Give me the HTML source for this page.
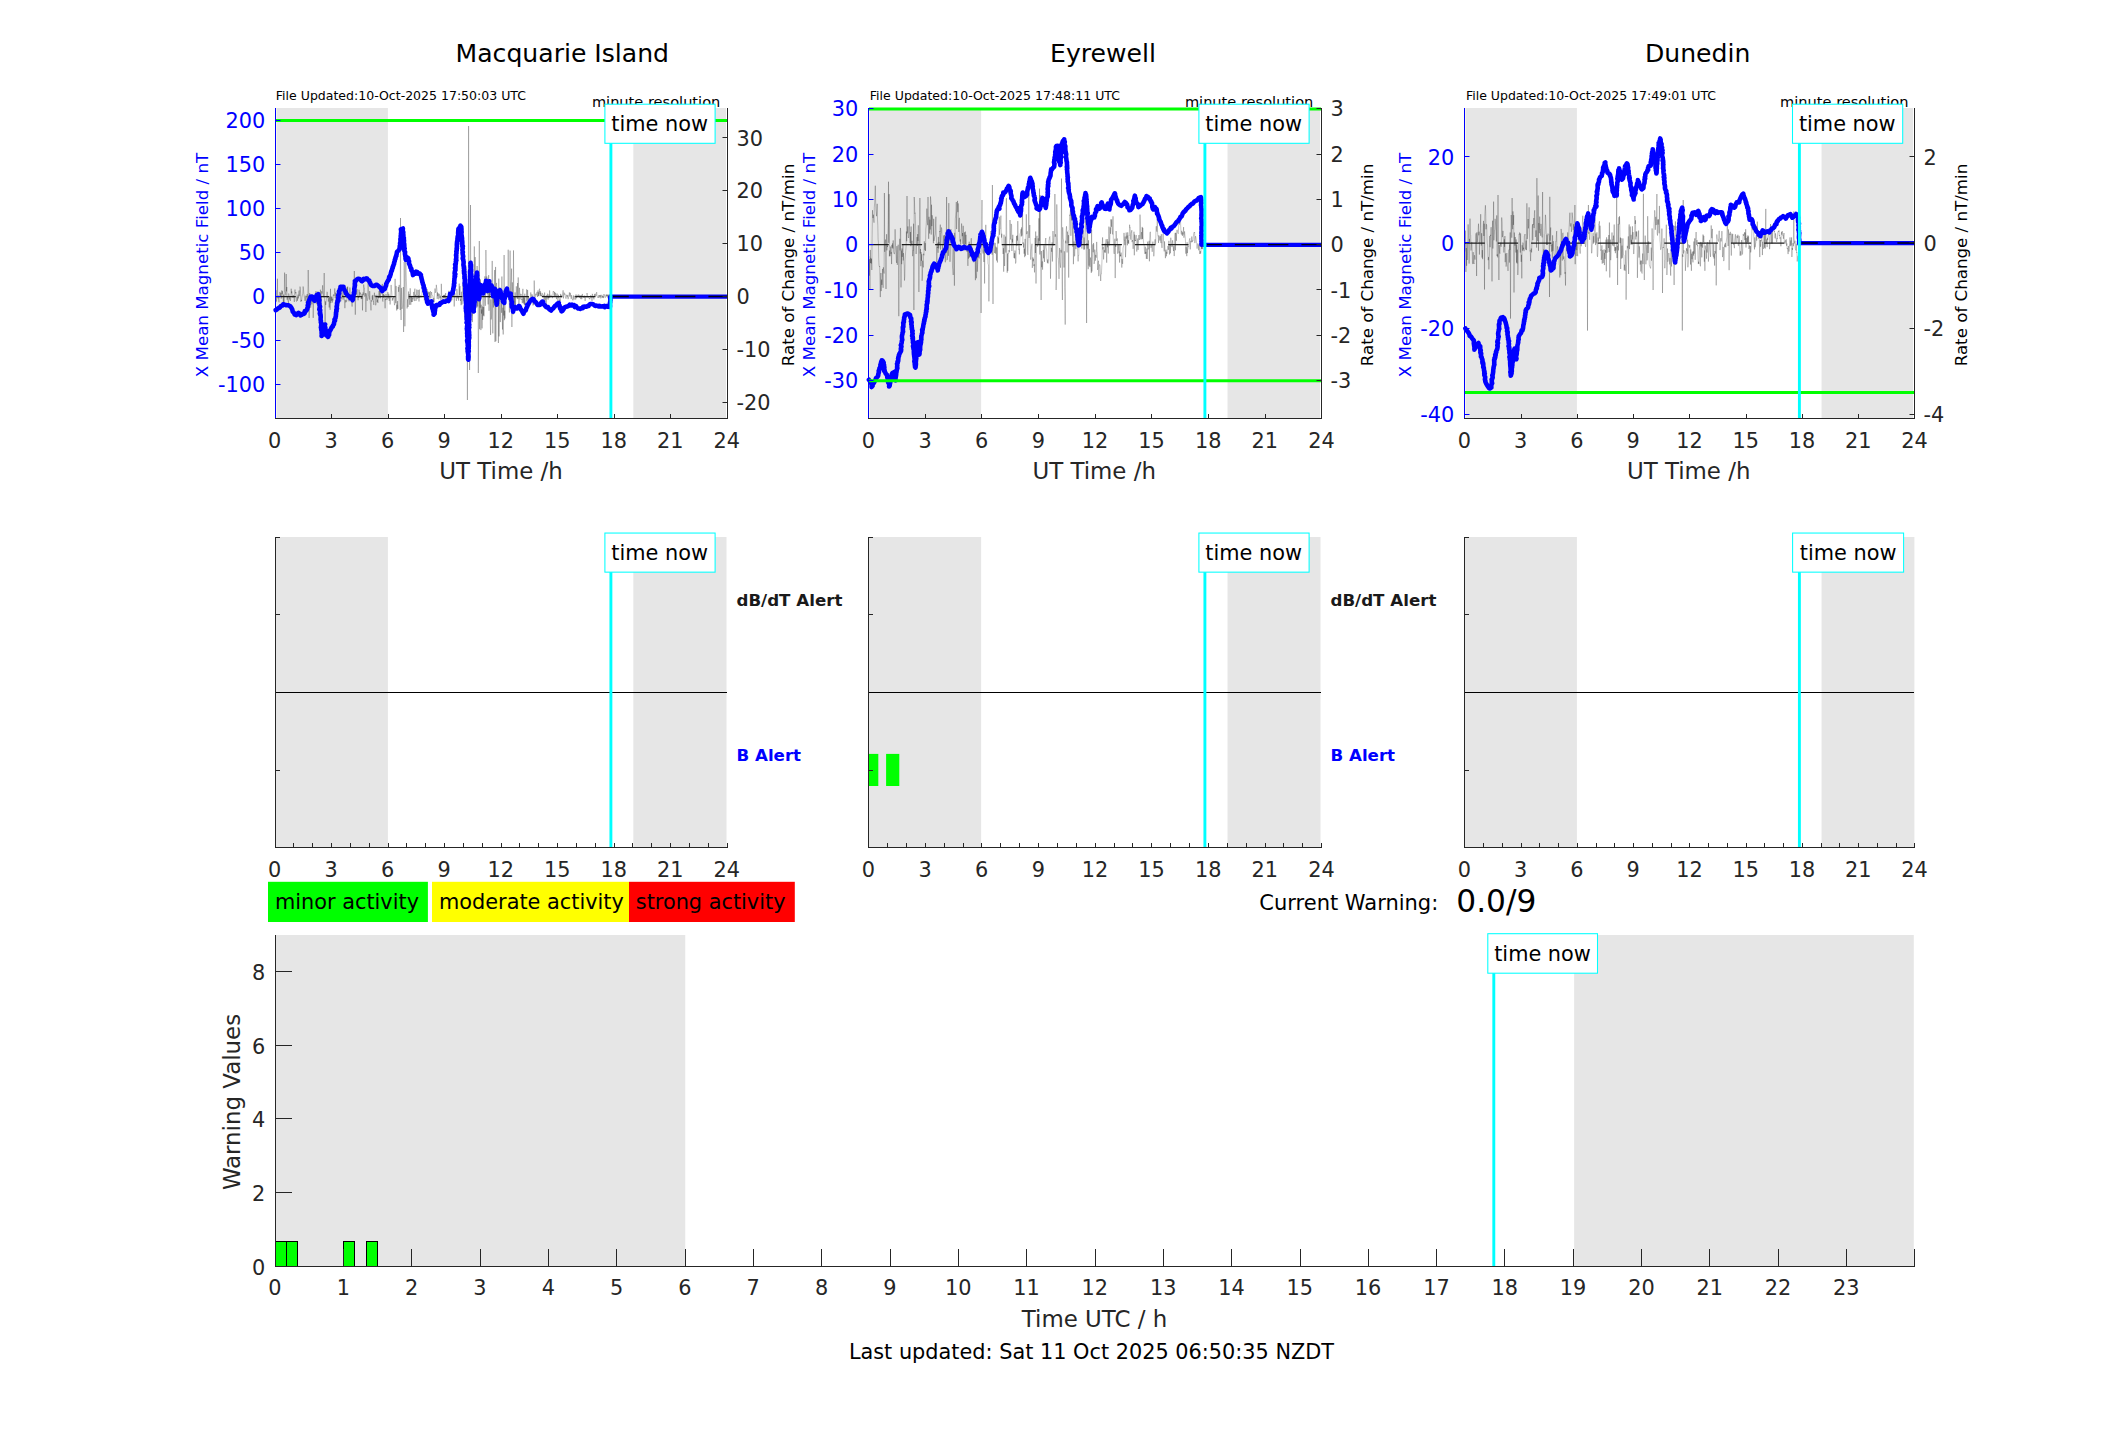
<!DOCTYPE html>
<html><head><meta charset="utf-8"><title>Geomagnetic activity</title>
<style>html,body{margin:0;padding:0;background:#fff}svg{display:block}</style></head>
<body>
<svg width="2117" height="1437" viewBox="0 0 2117 1437" font-family="'DejaVu Sans', 'Liberation Sans', sans-serif">
<rect x="0" y="0" width="2117" height="1437" fill="#ffffff"/>
<rect x="277" y="108" width="110.9" height="310" fill="#e6e6e6"/>
<rect x="276" y="108" width="1" height="310" fill="#f6f6e6"/>
<rect x="633.33" y="108" width="92.67" height="310" fill="#e6e6e6"/>
<text x="562.3" y="62.2" font-size="25.1" fill="#000000" text-anchor="middle">Macquarie Island</text>
<text x="275.8" y="99.9" font-size="12.53" fill="#000000">File Updated:10-Oct-2025 17:50:03 UTC</text>
<text x="720.3" y="107" font-size="14.58" fill="#000000" text-anchor="end">minute resolution</text>
<polyline points="275.5,304.7 275.8,302.3 276.1,290.2 276.4,301.6 276.8,298.7 277.1,295.3 277.4,278.7 277.7,297.4 278.0,298.4 278.3,295.5 278.6,300.0 279.0,302.3 279.3,296.8 279.6,297.2 279.9,291.9 280.2,295.3 280.5,297.0 280.8,292.9 281.2,298.7 281.5,297.2 281.8,290.4 282.1,294.2 282.4,291.2 282.7,294.5 283.0,298.3 283.4,302.7 283.7,294.6 284.0,302.0 284.3,293.2 284.6,272.6 284.9,288.3 285.2,291.6 285.5,292.3 285.9,295.5 286.2,274.0 286.5,291.4 286.8,287.0 287.1,299.7 287.4,296.8 287.7,300.4 288.1,300.7 288.4,305.3 288.7,293.5 289.0,294.8 289.3,297.7 289.6,299.5 289.9,297.1 290.3,301.0 290.6,299.1 290.9,296.9 291.2,288.7 291.5,293.3 291.8,291.4 292.1,294.3 292.5,297.5 292.8,297.4 293.1,295.9 293.4,295.1 293.7,298.0 294.0,297.6 294.3,301.9 294.7,291.4 295.0,289.5 295.3,291.6 295.6,293.4 295.9,292.0 296.2,301.0 296.5,301.5 296.9,299.5 297.2,296.6 297.5,300.7 297.8,296.2 298.1,294.6 298.4,298.4 298.7,292.4 299.1,290.5 299.4,294.2 299.7,296.2 300.0,286.6 300.3,288.4 300.6,293.0 300.9,301.9 301.2,299.9 301.6,301.0 301.9,297.4 302.2,296.0 302.5,294.4 302.8,293.5 303.1,286.5 303.4,288.2 303.8,293.6 304.1,295.7 304.4,297.5 304.7,298.4 305.0,300.9 305.3,295.7 305.6,299.1 306.0,300.7 306.3,303.8 306.6,295.8 306.9,297.4 307.2,294.0 307.5,298.9 307.8,296.2 308.2,270.0 308.5,284.7 308.8,295.9 309.1,318.0 309.4,307.8 309.7,293.1 310.0,300.9 310.4,298.9 310.7,307.7 311.0,304.1 311.3,297.9 311.6,296.9 311.9,304.4 312.2,299.8 312.6,295.2 312.9,296.8 313.2,317.9 313.5,301.5 313.8,297.0 314.1,300.9 314.4,301.2 314.8,302.1 315.1,297.5 315.4,301.3 315.7,293.3 316.0,291.1 316.3,304.3 316.6,293.0 316.9,294.2 317.3,299.2 317.6,291.6 317.9,301.1 318.2,297.7 318.5,298.4 318.8,296.3 319.1,296.7 319.5,297.1 319.8,298.4 320.1,307.1 320.4,289.7 320.7,303.2 321.0,296.2 321.3,299.7 321.7,291.2 322.0,293.6 322.3,290.5 322.6,285.3 322.9,290.6 323.2,295.7 323.5,297.3 323.9,290.2 324.2,273.0 324.5,299.3 324.8,304.3 325.1,324.0 325.4,301.3 325.7,304.9 326.1,302.2 326.4,297.7 326.7,296.0 327.0,291.8 327.3,292.5 327.6,297.7 327.9,296.7 328.3,301.6 328.6,299.0 328.9,297.6 329.2,307.5 329.5,296.6 329.8,299.9 330.1,309.8 330.5,288.8 330.8,303.1 331.1,296.4 331.4,300.8 331.7,297.3 332.0,296.9 332.3,302.6 332.6,298.8 333.0,300.5 333.3,294.7 333.6,294.5 333.9,296.0 334.2,295.3 334.5,293.3 334.8,288.4 335.2,298.0 335.5,292.6 335.8,294.0 336.1,299.0 336.4,305.3 336.7,303.0 337.0,296.9 337.4,308.7 337.7,300.3 338.0,303.9 338.3,305.1 338.6,297.0 338.9,295.2 339.2,297.1 339.6,296.9 339.9,296.1 340.2,290.2 340.5,292.4 340.8,301.3 341.1,297.2 341.4,298.5 341.8,294.3 342.1,291.3 342.4,296.4 342.7,295.3 343.0,299.6 343.3,296.3 343.6,285.9 344.0,292.8 344.3,300.3 344.6,300.9 344.9,308.2 345.2,299.7 345.5,301.2 345.8,302.4 346.2,300.3 346.5,301.6 346.8,301.2 347.1,287.0 347.4,290.5 347.7,286.5 348.0,295.4 348.3,295.5 348.7,297.7 349.0,301.4 349.3,295.5 349.6,297.1 349.9,287.5 350.2,294.7 350.5,298.7 350.9,300.7 351.2,300.3 351.5,295.9 351.8,302.8 352.1,306.6 352.4,298.6 352.7,302.5 353.1,291.0 353.4,293.8 353.7,298.7 354.0,298.1 354.3,271.0 354.6,294.1 354.9,298.7 355.3,314.7 355.6,299.2 355.9,291.4 356.2,292.9 356.5,294.5 356.8,291.4 357.1,289.2 357.5,296.1 357.8,297.9 358.1,300.3 358.4,295.8 358.7,298.0 359.0,289.7 359.3,291.4 359.7,295.8 360.0,292.2 360.3,293.5 360.6,293.1 360.9,294.8 361.2,299.1 361.5,296.9 361.9,299.0 362.2,294.1 362.5,310.4 362.8,294.8 363.1,292.4 363.4,295.2 363.7,284.5 364.0,287.7 364.4,287.9 364.7,296.6 365.0,295.7 365.3,293.0 365.6,294.7 365.9,312.0 366.2,293.4 366.6,297.6 366.9,299.1 367.2,300.8 367.5,298.5 367.8,297.0 368.1,279.9 368.4,295.0 368.8,296.3 369.1,299.5 369.4,299.5 369.7,291.1 370.0,296.9 370.3,302.8 370.6,304.6 371.0,310.4 371.3,300.3 371.6,301.5 371.9,300.7 372.2,295.7 372.5,299.8 372.8,294.9 373.2,301.7 373.5,301.4 373.8,304.9 374.1,299.5 374.4,292.7 374.7,296.4 375.0,296.6 375.4,295.3 375.7,305.3 376.0,303.6 376.3,299.6 376.6,298.0 376.9,294.8 377.2,302.0 377.6,299.6 377.9,303.0 378.2,295.9 378.5,298.2 378.8,293.6 379.1,290.9 379.4,297.7 379.7,290.7 380.1,294.5 380.4,298.3 380.7,291.6 381.0,291.6 381.3,287.5 381.6,293.2 381.9,292.9 382.3,283.9 382.6,300.7 382.9,301.6 383.2,293.7 383.5,297.6 383.8,294.4 384.1,296.3 384.5,295.5 384.8,302.1 385.1,308.3 385.4,299.2 385.7,300.2 386.0,294.1 386.3,297.9 386.7,299.1 387.0,300.0 387.3,298.2 387.6,298.2 387.9,292.1 388.2,298.6 388.5,295.6 388.9,293.8 389.2,300.9 389.5,296.3 389.8,295.6 390.1,304.5 390.4,297.8 390.7,297.9 391.1,284.9 391.4,290.3 391.7,290.9 392.0,296.4 392.3,300.7 392.6,298.2 392.9,299.5 393.3,298.4 393.6,297.1 393.9,297.0 394.2,302.1 394.5,305.2 394.8,303.8 395.1,278.8 395.4,297.9 395.8,303.2 396.1,285.9 396.4,303.9 396.7,310.5 397.0,304.7 397.3,309.3 397.6,301.1 398.0,308.9 398.3,286.9 398.6,291.8 398.9,287.9 399.2,284.9 399.5,289.3 399.8,296.1 400.2,310.0 400.5,218.0 400.8,306.2 401.1,320.0 401.4,287.9 401.7,300.5 402.0,308.9 402.4,307.0 402.7,306.3 403.0,296.5 403.3,287.0 403.6,332.0 403.9,291.8 404.2,262.0 404.6,287.6 404.9,326.3 405.2,292.3 405.5,281.6 405.8,262.2 406.1,274.2 406.4,280.5 406.8,293.0 407.1,308.5 407.4,301.8 407.7,299.1 408.0,307.0 408.3,304.2 408.6,291.5 409.0,299.0 409.3,294.1 409.6,304.8 409.9,297.6 410.2,288.3 410.5,295.9 410.8,304.8 411.1,296.0 411.5,302.1 411.8,295.8 412.1,300.8 412.4,302.0 412.7,297.7 413.0,299.4 413.3,296.8 413.7,291.9 414.0,295.0 414.3,301.1 414.6,290.8 414.9,288.6 415.2,296.8 415.5,294.8 415.9,301.0 416.2,300.1 416.5,293.5 416.8,289.5 417.1,299.2 417.4,297.8 417.7,296.5 418.1,290.0 418.4,297.9 418.7,295.4 419.0,301.5 419.3,289.5 419.6,297.9 419.9,297.1 420.3,296.8 420.6,295.5 420.9,297.3 421.2,297.3 421.5,296.2 421.8,296.4 422.1,291.7 422.5,286.3 422.8,286.3 423.1,284.4 423.4,291.4 423.7,295.1 424.0,297.0 424.3,300.4 424.7,298.5 425.0,299.1 425.3,294.5 425.6,295.8 425.9,298.2 426.2,291.0 426.5,292.4 426.8,300.6 427.2,289.2 427.5,295.3 427.8,292.8 428.1,294.2 428.4,291.7 428.7,292.9 429.0,297.3 429.4,292.1 429.7,298.7 430.0,293.2 430.3,291.1 430.6,294.9 430.9,298.3 431.2,295.4 431.6,292.0 431.9,294.7 432.2,295.2 432.5,295.6 432.8,296.1 433.1,298.3 433.4,301.4 433.8,297.9 434.1,302.3 434.4,293.3 434.7,291.2 435.0,288.5 435.3,290.9 435.6,292.8 436.0,291.1 436.3,284.8 436.6,287.3 436.9,289.2 437.2,298.9 437.5,292.4 437.8,296.1 438.2,293.5 438.5,294.9 438.8,299.3 439.1,293.7 439.4,294.2 439.7,296.8 440.0,298.1 440.4,295.7 440.7,298.6 441.0,301.0 441.3,283.8 441.6,292.0 441.9,298.4 442.2,299.2 442.5,299.7 442.9,301.2 443.2,295.9 443.5,295.1 443.8,298.1 444.1,294.8 444.4,297.3 444.7,294.9 445.1,302.3 445.4,294.8 445.7,293.1 446.0,301.0 446.3,300.9 446.6,299.0 446.9,297.1 447.3,303.0 447.6,295.8 447.9,298.4 448.2,299.6 448.5,292.5 448.8,290.8 449.1,297.5 449.5,298.1 449.8,298.7 450.1,296.0 450.4,299.0 450.7,299.4 451.0,301.4 451.3,290.7 451.7,300.4 452.0,299.6 452.3,296.2 452.6,288.7 452.9,289.8 453.2,286.2 453.5,295.7 453.9,292.2 454.2,306.5 454.5,297.0 454.8,292.8 455.1,294.6 455.4,296.9 455.7,296.6 456.1,297.9 456.4,300.9 456.7,288.9 457.0,289.6 457.3,291.2 457.6,297.9 457.9,298.6 458.2,295.8 458.6,300.6 458.9,296.0 459.2,283.6 459.5,295.3 459.8,287.8 460.1,286.2 460.4,301.0 460.8,298.7 461.1,305.2 461.4,292.3 461.7,291.7 462.0,304.4 462.3,299.8 462.6,283.5 463.0,285.9 463.3,292.7 463.6,290.5 463.9,300.9 464.2,293.5 464.5,317.4 464.8,316.6 465.2,293.0 465.5,312.7 465.8,265.3 466.1,293.0 466.4,295.8 466.7,292.4 467.0,299.3 467.4,400.0 467.7,306.2 468.0,303.3 468.3,320.9 468.6,126.0 468.9,253.3 469.2,321.5 469.6,370.0 469.9,286.8 470.2,280.8 470.5,205.0 470.8,286.7 471.1,280.3 471.4,293.8 471.8,315.7 472.1,272.2 472.4,322.1 472.7,285.8 473.0,283.9 473.3,282.6 473.6,282.2 473.9,285.6 474.3,246.4 474.6,273.5 474.9,282.0 475.2,257.1 475.5,286.9 475.8,290.5 476.1,274.6 476.5,283.8 476.8,307.7 477.1,266.0 477.4,287.6 477.7,306.5 478.0,277.9 478.3,373.0 478.7,321.8 479.0,308.1 479.3,241.0 479.6,329.2 479.9,296.6 480.2,307.7 480.5,279.4 480.9,330.1 481.2,304.7 481.5,313.6 481.8,309.5 482.1,328.4 482.4,306.5 482.7,319.9 483.1,295.6 483.4,315.5 483.7,307.0 484.0,316.3 484.3,304.1 484.6,291.2 484.9,276.3 485.3,305.8 485.6,286.4 485.9,250.0 486.2,267.5 486.5,292.3 486.8,276.5 487.1,294.2 487.5,278.6 487.8,291.0 488.1,304.4 488.4,281.9 488.7,275.1 489.0,310.8 489.3,288.6 489.6,297.9 490.0,288.9 490.3,323.7 490.6,335.0 490.9,299.4 491.2,319.5 491.5,317.1 491.8,304.7 492.2,260.9 492.5,300.8 492.8,333.4 493.1,296.2 493.4,307.5 493.7,296.2 494.0,303.3 494.4,277.7 494.7,270.0 495.0,342.0 495.3,287.6 495.6,266.9 495.9,341.2 496.2,286.5 496.6,282.9 496.9,298.4 497.2,305.9 497.5,294.8 497.8,304.8 498.1,295.4 498.4,343.0 498.8,278.6 499.1,336.4 499.4,301.9 499.7,287.4 500.0,304.1 500.3,322.1 500.6,307.4 501.0,295.1 501.3,291.5 501.6,312.8 501.9,276.5 502.2,317.0 502.5,329.5 502.8,307.7 503.2,334.5 503.5,294.2 503.8,315.5 504.1,255.0 504.4,320.2 504.7,310.7 505.0,318.5 505.3,303.6 505.7,295.7 506.0,292.8 506.3,290.7 506.6,299.0 506.9,286.9 507.2,286.8 507.5,292.3 507.9,293.9 508.2,249.7 508.5,293.4 508.8,294.2 509.1,298.5 509.4,312.5 509.7,294.5 510.1,250.6 510.4,286.2 510.7,297.8 511.0,283.0 511.3,280.0 511.6,268.6 511.9,327.0 512.3,282.3 512.6,294.2 512.9,304.2 513.2,314.5 513.5,250.4 513.8,298.4 514.1,311.6 514.5,296.2 514.8,304.4 515.1,292.4 515.4,308.1 515.7,297.5 516.0,298.2 516.3,286.3 516.7,296.4 517.0,296.3 517.3,298.5 517.6,283.0 517.9,299.1 518.2,277.4 518.5,289.7 518.9,304.4 519.2,299.6 519.5,287.8 519.8,293.8 520.1,299.5 520.4,296.6 520.7,293.8 521.0,294.9 521.4,294.6 521.7,300.0 522.0,299.2 522.3,303.2 522.6,294.2 522.9,288.8 523.2,302.7 523.6,295.9 523.9,304.2 524.2,297.6 524.5,305.3 524.8,293.7 525.1,301.0 525.4,304.9 525.8,305.7 526.1,301.9 526.4,301.5 526.7,289.3 527.0,301.0 527.3,301.2 527.6,290.0 528.0,299.6 528.3,298.7 528.6,296.8 528.9,301.0 529.2,300.3 529.5,298.7 529.8,303.6 530.2,299.2 530.5,294.7 530.8,292.4 531.1,295.1 531.4,299.3 531.7,295.6 532.0,294.2 532.4,296.6 532.7,295.7 533.0,305.5 533.3,300.2 533.6,303.7 533.9,304.8 534.2,280.5 534.6,295.8 534.9,297.3 535.2,297.2 535.5,296.0 535.8,293.7 536.1,295.4 536.4,294.1 536.7,293.3 537.1,291.9 537.4,297.0 537.7,295.1 538.0,290.4 538.3,296.1 538.6,292.3 538.9,296.2 539.3,289.6 539.6,288.7 539.9,294.3 540.2,291.0 540.5,295.9 540.8,292.6 541.1,296.3 541.5,295.3 541.8,296.2 542.1,293.4 542.4,293.3 542.7,294.3 543.0,295.7 543.3,294.8 543.7,296.4 544.0,302.2 544.3,301.1 544.6,292.5 544.9,297.0 545.2,300.6 545.5,295.9 545.9,296.4 546.2,306.4 546.5,298.9 546.8,295.1 547.1,298.5 547.4,293.7 547.7,293.9 548.1,299.7 548.4,296.6 548.7,298.1 549.0,294.5 549.3,298.1 549.6,290.4 549.9,295.1 550.3,296.4 550.6,297.3 550.9,295.2 551.2,294.8 551.5,297.0 551.8,296.3 552.1,296.8 552.4,298.2 552.8,296.4 553.1,291.6 553.4,292.1 553.7,291.2 554.0,292.0 554.3,296.0 554.6,292.0 555.0,295.0 555.3,296.0 555.6,292.9 555.9,294.1 556.2,295.8 556.5,299.1 556.8,294.1 557.2,293.6 557.5,294.4 557.8,301.2 558.1,299.0 558.4,294.8 558.7,297.5 559.0,297.2 559.4,298.5 559.7,301.6 560.0,299.7 560.3,300.7 560.6,293.9 560.9,296.4 561.2,294.9 561.6,297.4 561.9,296.8 562.2,296.4 562.5,295.5 562.8,292.9 563.1,290.3 563.4,298.4 563.8,294.2 564.1,292.6 564.4,293.1 564.7,294.6 565.0,293.8 565.3,296.5 565.6,297.4 566.0,298.7 566.3,295.9 566.6,294.8 566.9,296.0 567.2,297.3 567.5,296.7 567.8,294.9 568.1,299.2 568.5,297.2 568.8,296.9 569.1,295.2 569.4,292.4 569.7,294.8 570.0,296.5 570.3,292.8 570.7,295.7 571.0,298.5 571.3,298.8 571.6,295.2 571.9,296.8 572.2,299.3 572.5,299.4 572.9,300.4 573.2,299.1 573.5,295.5 573.8,297.9 574.1,299.6 574.4,296.4 574.7,295.9 575.1,296.9 575.4,295.7 575.7,299.6 576.0,294.4 576.3,295.5 576.6,298.2 576.9,295.5 577.3,295.2 577.6,295.1 577.9,295.9 578.2,296.2 578.5,294.6 578.8,295.4 579.1,294.8 579.5,297.8 579.8,297.4 580.1,295.3 580.4,297.3 580.7,299.1 581.0,297.5 581.3,295.1 581.7,299.1 582.0,298.9 582.3,293.9 582.6,295.7 582.9,295.9 583.2,295.9 583.5,297.0 583.8,297.9 584.2,295.8 584.5,297.3 584.8,295.6 585.1,300.9 585.4,297.7 585.7,297.3 586.0,297.0 586.4,297.4 586.7,296.5 587.0,293.0 587.3,294.3 587.6,296.0 587.9,297.7 588.2,296.5 588.6,296.2 588.9,296.9 589.2,298.8 589.5,298.3 589.8,299.3 590.1,298.5 590.4,298.1 590.8,295.1 591.1,297.8 591.4,297.6 591.7,297.5 592.0,300.9 592.3,293.8 592.6,294.9 593.0,297.8 593.3,296.8 593.6,297.0 593.9,299.4 594.2,296.2 594.5,294.3 594.8,295.9 595.2,293.7 595.5,294.9 595.8,296.0 596.1,295.9 596.4,293.5 596.7,292.1 597.0,295.6 597.4,297.3 597.7,297.2 598.0,296.8 598.3,297.8 598.6,296.6 598.9,295.0 599.2,297.7 599.5,295.3 599.9,296.4 600.2,296.9 600.5,294.9 600.8,298.4 601.1,295.6 601.4,295.3 601.7,294.8 602.1,297.7 602.4,295.7 602.7,297.6 603.0,296.4 603.3,295.8 603.6,298.1 603.9,294.0 604.3,295.2 604.6,295.2 604.9,297.0 605.2,297.7 605.5,297.4 605.8,296.0 606.1,294.6 606.5,296.4 606.8,294.5 607.1,296.1 607.4,295.2 607.7,297.6 608.0,294.3 608.3,295.7 608.7,297.1 609.0,295.0 609.3,300.3 609.6,298.3 609.9,297.2" fill="none" stroke="#000" stroke-opacity="0.45" stroke-width="0.5" stroke-linejoin="round"/>
<line x1="275.5" y1="296.5" x2="610.9" y2="296.5" stroke="#1c1c1c" stroke-width="1.25" stroke-dasharray="20.3 13"/>
<polyline points="275.7,310.1 276.5,309.7 277.5,308.8 278.2,308.2 279.4,307.8 280.2,307.0 280.8,306.3 281.1,305.9 282.6,305.5 283.2,304.3 284.4,304.6 285.8,305.1 286.9,305.2 288.1,305.3 289.0,305.5 290.0,306.3 290.5,306.5 291.4,307.8 292.0,309.0 292.3,309.6 292.7,311.5 293.1,312.2 293.8,312.5 294.6,314.5 295.0,314.6 296.3,315.1 297.1,314.4 297.3,313.8 298.5,312.8 299.2,313.4 299.5,313.6 300.2,314.8 300.5,315.4 301.4,315.0 302.9,313.7 303.4,314.0 304.7,313.2 304.8,311.0 306.0,310.8 306.5,310.5 307.2,309.2 307.3,308.3 307.8,307.3 307.9,306.3 307.7,305.5 308.5,304.2 308.1,302.7 309.0,301.2 309.0,301.4 309.1,300.5 309.9,298.6 310.2,297.8 310.6,296.8 311.6,296.5 313.1,297.1 313.1,298.5 314.1,298.8 313.9,299.9 314.7,300.8 315.3,299.5 315.6,298.4 315.5,298.1 316.3,297.2 316.4,295.9 316.7,295.0 318.2,294.2 318.5,295.1 318.6,296.4 319.0,297.3 318.7,298.1 318.9,299.7 318.9,300.5 319.5,300.3 319.1,302.6 319.5,303.6 319.4,304.8 319.6,305.3 320.1,306.7 319.6,307.5 319.7,308.6 319.3,309.4 320.2,310.1 320.0,312.0 320.3,313.3 319.8,313.5 320.2,315.0 320.6,314.6 320.7,316.1 320.7,317.1 320.6,319.3 320.6,319.9 320.9,320.9 320.8,322.5 321.1,322.8 321.5,323.5 321.2,324.9 321.1,326.3 321.2,327.3 320.9,327.5 321.4,328.7 321.2,329.6 321.7,331.5 321.8,331.9 321.6,332.8 321.8,335.0 321.6,336.0 322.7,334.1 322.9,333.7 323.4,331.8 323.7,331.1 324.2,329.5 324.3,329.5 324.5,327.7 324.3,327.2 324.6,325.8 325.1,324.5 324.5,325.5 324.7,327.0 325.3,327.4 325.4,329.0 325.6,330.2 325.7,331.1 326.2,332.3 325.9,333.0 325.8,333.1 325.9,335.0 327.0,335.7 328.1,336.9 328.3,336.0 329.1,334.9 329.1,334.4 329.2,332.4 329.4,332.4 329.4,330.7 330.2,330.3 330.7,329.6 331.4,328.0 331.7,327.4 332.8,326.5 333.0,325.5 333.4,324.8 334.0,324.0 334.0,323.0 334.5,321.0 335.0,320.7 334.5,319.4 335.2,318.6 335.5,318.1 335.6,316.9 335.9,316.0 335.9,313.8 336.1,314.2 336.0,312.5 336.6,310.9 336.4,311.6 336.3,309.9 337.0,308.5 336.8,307.9 336.6,306.5 337.0,305.9 337.1,304.4 337.0,303.3 337.5,302.5 337.4,301.0 338.3,300.8 338.0,298.2 338.2,298.4 338.6,297.3 338.4,296.2 338.2,295.4 338.9,293.6 339.3,293.6 338.9,291.5 339.6,290.7 339.9,289.2 340.8,289.0 340.5,286.9 341.5,286.8 343.5,286.7 343.4,287.4 343.5,288.0 344.3,289.5 344.5,290.2 345.3,291.3 345.8,292.2 346.0,293.4 346.5,293.7 347.2,294.8 348.0,295.6 348.8,296.4 349.6,296.6 350.5,298.3 351.4,298.5 352.2,299.0 352.6,300.2 352.9,299.5 353.0,297.1 353.1,297.8 353.4,295.6 353.4,295.4 353.8,294.3 354.1,293.5 353.9,292.5 354.4,291.6 354.4,289.8 354.3,289.5 354.3,288.6 354.6,287.5 354.6,287.2 355.0,285.0 354.8,285.2 354.8,283.4 355.2,282.0 354.9,281.1 355.9,280.7 356.7,279.5 357.4,279.0 358.4,278.8 359.5,279.0 360.0,279.5 360.9,280.2 361.4,280.9 362.1,281.3 363.1,280.2 363.6,278.9 365.3,279.3 366.4,278.4 367.0,278.5 368.0,280.1 368.3,280.2 369.3,280.4 369.3,281.6 370.0,282.4 370.6,284.0 371.2,285.1 372.4,285.9 372.8,285.7 373.9,285.9 375.0,285.9 376.0,284.7 376.6,284.8 377.7,285.5 378.6,286.1 379.6,287.3 380.2,287.8 380.9,287.9 381.5,290.0 382.2,291.1 383.3,289.6 384.0,289.3 384.9,288.9 385.2,287.3 385.5,286.6 386.1,285.7 386.2,284.0 386.6,283.3 386.9,282.5 387.4,281.6 388.0,280.5 388.7,279.6 388.9,278.8 389.2,276.8 389.2,276.9 389.9,276.8 390.2,275.4 390.7,274.3 390.9,272.8 391.3,271.4 391.8,270.4 391.9,270.7 392.2,268.8 392.8,267.8 392.7,266.8 393.3,266.0 393.3,265.4 394.1,263.7 394.1,262.5 394.7,261.3 394.8,260.4 394.8,259.9 395.5,258.6 395.4,257.9 395.8,256.7 396.4,255.9 396.3,255.4 396.7,253.7 396.9,252.2 397.0,251.9 398.6,250.3 399.0,249.7 399.7,249.2 399.6,248.2 399.7,246.9 399.8,245.7 399.9,245.4 400.2,244.2 400.0,243.3 400.2,242.9 400.6,241.2 400.4,239.9 400.4,239.0 400.7,238.3 400.9,237.9 400.7,236.0 401.5,234.2 400.9,234.0 401.1,233.0 401.1,232.0 401.3,231.1 400.9,229.4 402.9,228.5 402.7,230.3 402.9,231.3 403.3,232.2 403.3,233.0 403.0,234.1 403.4,234.9 403.4,236.4 403.3,237.4 403.9,237.9 403.7,239.1 404.0,240.3 404.0,240.9 403.9,242.3 403.6,244.0 404.2,243.7 404.3,245.5 404.3,246.7 404.0,247.6 404.7,248.5 404.3,249.2 404.4,251.0 405.1,252.1 404.9,254.0 404.9,253.8 405.3,255.5 405.2,255.8 405.6,257.5 405.5,258.4 405.8,259.8 406.8,258.4 407.7,257.7 408.3,258.2 408.5,259.0 408.5,260.7 409.1,261.2 409.0,262.5 409.0,263.4 409.5,264.6 409.7,264.6 410.3,266.5 410.5,267.7 410.9,268.1 411.4,268.7 411.4,270.3 412.1,271.2 412.4,271.9 412.8,273.9 413.0,275.1 414.1,273.8 415.5,273.8 416.1,271.7 417.4,272.2 418.6,273.7 419.7,273.5 420.3,274.5 420.8,274.9 420.7,275.0 421.3,277.3 421.7,279.4 421.8,279.4 422.0,280.2 422.3,282.0 422.7,282.8 422.9,284.3 423.4,284.9 423.7,286.0 423.6,287.8 424.2,287.8 424.6,289.5 424.4,291.1 425.0,291.9 425.3,292.6 425.2,294.1 425.8,294.7 426.1,295.9 426.4,296.7 426.4,297.0 426.6,299.2 427.1,299.8 427.0,301.6 427.2,302.3 427.8,303.0 427.9,303.7 428.6,303.2 429.5,302.9 431.5,301.4 430.3,301.9 430.6,303.0 431.3,303.7 431.6,304.3 432.0,305.3 432.1,306.8 432.4,308.5 432.8,309.1 433.1,311.0 433.3,311.6 433.8,312.6 433.6,314.7 434.5,313.9 434.3,313.9 434.7,312.9 434.7,311.2 435.0,311.1 435.0,309.2 435.4,307.8 435.6,307.4 435.9,306.2 435.9,305.4 437.2,304.9 438.4,305.1 439.6,304.7 440.2,303.0 440.9,303.3 442.3,302.2 443.6,301.4 444.6,301.7 445.4,301.6 447.3,300.4 448.5,301.0 448.7,300.1 449.2,298.9 449.4,297.8 449.6,296.6 449.7,296.7 450.1,295.0 450.1,293.7 451.4,294.0 452.5,293.5 452.7,292.7 452.8,290.9 453.3,290.0 453.3,288.7 453.5,288.1 453.8,286.2 454.1,285.7 453.9,284.9 454.1,283.4 454.4,283.0 454.2,281.6 454.2,281.4 454.4,279.8 454.4,278.6 455.1,276.2 454.6,276.4 454.8,274.9 455.3,274.1 454.6,273.4 454.7,272.5 455.0,271.0 455.5,270.0 455.0,268.1 455.6,268.1 455.3,267.1 455.6,266.0 455.1,264.6 455.8,264.0 455.9,261.6 455.8,261.8 456.4,260.2 455.9,259.6 456.2,258.4 456.3,257.2 456.2,256.3 456.3,255.2 456.0,255.0 456.5,253.2 456.5,252.9 456.3,251.4 456.7,250.6 456.6,248.5 457.0,248.5 456.8,247.2 457.0,246.2 456.8,245.0 456.9,244.0 456.9,243.5 457.0,242.5 457.1,241.4 457.7,240.3 457.4,239.2 457.7,237.4 457.6,237.2 457.8,236.2 458.1,235.4 458.3,234.3 458.1,233.1 458.2,231.9 458.3,230.3 458.4,230.0 458.4,229.0 459.3,228.1 460.2,226.2 460.4,225.7 461.2,226.7 460.6,226.7 461.3,227.6 461.4,227.8 461.5,229.9 461.4,230.6 461.6,231.7 461.6,232.7 461.1,233.9 461.7,235.3 461.6,236.0 461.9,237.1 462.1,238.9 461.8,238.3 462.2,240.8 462.3,241.6 462.0,241.9 462.4,242.9 461.9,243.9 462.9,246.1 462.3,246.0 462.5,247.0 462.8,248.3 462.4,249.9 462.5,250.5 462.7,251.3 462.9,252.2 462.5,252.5 462.7,254.2 463.0,255.5 463.2,256.6 462.9,257.3 462.7,258.5 463.3,259.8 463.3,260.5 463.6,261.6 463.6,262.9 463.5,264.2 463.4,264.5 463.5,265.4 464.0,267.5 463.8,268.0 464.1,269.1 464.2,269.3 463.9,271.0 464.4,271.9 464.0,272.7 464.1,273.5 464.6,274.6 464.4,276.8 464.7,277.1 464.4,278.1 464.9,279.2 464.9,280.0 464.8,280.9 464.9,282.6 464.6,283.0 465.0,283.8 464.9,285.4 465.5,286.4 465.2,286.5 465.6,288.2 465.3,288.7 465.3,289.7 465.4,291.4 465.4,292.4 465.3,293.9 465.4,293.5 465.5,295.0 465.4,296.2 465.7,296.9 465.7,299.0 465.9,299.3 465.8,300.4 465.9,301.7 465.9,301.4 466.0,303.1 466.2,304.2 466.1,306.4 465.9,306.1 465.9,306.6 465.8,308.7 466.1,308.8 466.0,310.9 466.2,311.5 466.5,313.2 466.9,314.1 466.6,314.8 467.0,316.3 466.6,316.9 466.7,317.8 466.6,318.2 466.6,319.2 467.1,321.0 466.6,322.4 467.1,322.1 467.3,324.2 467.4,324.4 467.1,326.1 467.0,327.0 467.3,327.3 466.8,328.4 467.0,329.8 467.2,331.1 467.2,331.8 467.1,333.5 467.4,334.1 467.2,335.8 467.2,336.4 467.6,337.0 467.6,337.7 467.6,339.3 467.1,340.5 467.3,341.8 467.4,342.2 467.6,343.1 467.7,344.1 467.8,345.3 467.7,345.2 468.0,347.4 467.4,348.4 467.9,349.9 467.6,351.1 467.9,352.5 467.9,352.8 468.0,353.1 468.3,355.0 468.5,356.0 468.1,356.0 468.1,357.5 468.1,359.1 468.4,359.7 468.4,358.8 468.5,358.1 468.6,356.5 468.1,356.3 468.5,355.2 468.2,353.5 468.5,352.0 468.4,351.9 468.8,351.3 468.4,349.0 468.7,348.9 468.7,346.9 468.8,346.8 468.8,345.2 468.8,344.7 468.6,342.6 468.8,342.5 468.8,341.7 468.7,340.2 468.8,339.5 469.2,338.1 469.3,337.8 469.1,336.4 469.3,335.1 468.9,333.7 469.1,333.6 469.1,332.2 469.0,331.1 468.7,330.4 469.0,328.5 468.9,327.6 469.3,327.4 468.8,326.3 469.3,324.7 468.8,323.6 469.0,323.0 469.1,321.0 469.2,320.2 469.4,319.3 469.1,318.4 469.1,318.3 469.4,317.0 469.3,315.1 469.2,314.5 469.1,313.9 469.2,312.4 469.1,310.8 469.5,311.2 469.4,309.2 468.8,308.7 469.7,307.7 469.6,307.2 469.7,305.3 469.7,304.8 469.2,303.3 469.2,302.4 469.6,301.0 469.1,301.0 469.6,300.0 469.3,298.8 470.0,298.2 469.6,296.4 469.6,295.7 469.8,294.3 469.4,293.6 469.6,292.5 469.7,291.9 469.9,290.0 469.8,289.9 469.6,288.4 470.0,287.7 469.9,285.6 469.5,285.2 469.9,285.2 469.7,283.5 470.1,281.3 469.8,281.1 469.9,279.9 470.1,278.6 470.1,277.7 470.0,277.2 470.0,276.0 470.5,274.9 470.1,274.2 470.1,273.3 470.0,272.1 470.2,270.5 470.7,269.4 470.7,269.1 470.7,267.3 470.6,267.4 470.4,265.7 471.0,264.8 470.4,263.4 470.6,262.8 470.6,264.4 470.6,264.9 471.0,265.3 471.0,267.5 470.5,267.3 470.7,268.0 471.1,269.0 471.1,271.4 470.7,271.7 470.7,273.2 471.1,273.8 471.3,275.1 471.3,275.9 471.3,277.0 471.2,278.0 471.1,278.8 471.9,280.0 471.3,281.1 471.4,281.4 471.5,283.4 471.8,284.0 471.6,284.7 472.1,286.2 471.7,286.3 471.7,289.2 471.8,289.2 472.1,290.1 472.0,290.7 471.9,293.0 472.0,293.6 471.9,294.2 472.4,295.7 472.1,296.6 472.5,297.0 472.6,298.0 472.4,299.4 472.1,300.4 472.5,300.8 472.8,302.8 472.8,304.0 472.8,303.9 473.4,305.7 473.4,306.2 473.4,307.7 473.5,308.6 473.7,309.3 473.3,310.0 473.8,311.3 473.5,310.2 473.7,309.1 473.8,308.3 473.9,307.2 474.1,306.3 474.2,305.6 474.4,303.6 474.3,303.1 474.7,301.8 474.4,301.3 474.5,300.8 474.6,299.7 474.4,297.5 475.0,297.4 474.9,296.2 475.0,294.6 475.2,293.8 475.2,293.0 474.7,291.4 475.4,290.8 475.1,289.9 475.1,288.5 475.3,287.8 475.7,286.7 475.8,286.4 475.9,285.1 475.7,283.7 475.7,282.3 475.9,281.3 476.3,280.8 476.0,278.8 476.2,278.4 476.1,277.1 476.0,276.8 476.6,276.7 476.7,274.5 477.1,273.7 477.0,272.5 476.9,274.3 477.3,275.4 477.1,275.8 477.1,277.2 477.1,278.1 477.7,279.5 477.3,280.4 477.5,280.6 477.4,282.5 478.1,282.8 477.7,283.9 478.5,285.5 477.9,285.4 478.0,287.6 478.6,288.1 478.1,289.0 478.0,290.6 478.2,291.7 478.2,291.7 478.7,293.0 478.8,294.3 478.5,295.6 479.0,295.5 479.3,297.6 479.2,297.6 478.9,299.2 479.4,297.8 479.1,296.5 479.3,296.5 479.1,295.1 479.7,295.0 479.8,293.1 479.6,291.9 479.8,291.3 480.0,290.9 480.2,288.7 480.5,288.6 480.3,286.8 481.1,285.2 481.9,286.4 481.7,287.9 482.2,289.2 482.5,290.6 482.5,291.5 482.6,292.5 483.1,293.4 483.5,292.2 483.8,291.6 483.9,290.0 483.9,289.0 484.3,288.2 485.2,287.4 485.0,285.7 484.9,284.9 485.4,283.5 485.9,282.6 486.0,280.8 486.0,283.0 486.2,284.1 486.5,285.0 486.2,285.7 486.3,287.3 487.0,288.0 487.0,288.9 487.7,290.9 487.5,289.7 487.4,287.3 487.8,286.7 488.0,286.1 488.9,284.7 488.5,284.0 488.7,283.2 489.3,281.3 489.1,282.7 489.3,283.3 489.0,284.0 489.6,286.1 489.7,286.1 489.7,287.8 489.7,288.8 490.3,290.4 490.5,289.3 490.7,287.9 491.3,287.0 491.6,285.6 491.8,286.4 492.4,288.0 492.2,289.8 492.5,289.2 492.5,291.3 493.0,292.6 492.9,292.6 492.7,294.3 493.1,294.8 493.1,296.2 493.4,295.4 493.6,293.7 494.1,293.8 494.1,292.6 494.4,291.3 494.6,289.7 494.9,289.4 494.8,288.7 495.5,289.7 495.6,290.3 495.2,290.8 495.2,292.2 495.5,293.5 495.2,295.2 496.2,295.3 495.9,296.5 495.9,297.3 495.9,298.1 496.1,299.5 496.2,300.2 496.3,301.6 496.5,302.2 496.5,304.1 496.7,304.6 496.6,303.6 497.0,303.3 496.9,301.4 497.2,300.7 497.0,299.2 497.3,298.8 497.3,297.0 497.8,295.9 497.8,295.5 497.9,293.9 498.1,293.1 498.7,291.9 499.5,290.5 499.9,290.2 500.4,291.0 500.6,292.2 500.9,294.2 501.0,294.8 501.1,296.1 501.9,296.8 501.7,298.0 502.5,299.2 502.9,298.9 502.9,301.2 503.2,302.0 504.3,302.8 504.3,301.3 504.0,300.4 504.4,299.4 504.7,298.3 504.8,297.5 504.9,297.1 505.2,295.3 505.2,294.0 505.7,293.3 505.6,291.9 506.1,290.8 506.8,289.3 507.0,288.7 507.0,289.8 507.4,291.1 507.6,292.1 507.6,292.6 508.4,294.6 508.5,295.0 509.0,295.5 509.5,295.5 510.8,293.6 510.3,295.7 510.9,295.7 511.0,297.5 510.5,298.7 511.3,298.4 511.4,299.6 511.6,301.5 512.0,302.1 511.6,303.9 511.6,304.2 511.8,305.5 511.8,306.7 512.4,307.6 512.8,308.4 512.9,309.4 513.0,309.8 513.1,311.6 513.3,310.2 513.8,309.0 513.8,307.9 514.5,306.8 515.3,307.8 516.6,308.5 517.0,308.4 518.0,307.4 518.7,306.1 519.2,306.0 519.5,306.4 520.1,307.5 520.4,308.7 520.9,309.5 521.6,310.4 522.1,310.6 522.4,311.9 523.4,313.8 523.8,312.3 524.7,310.8 525.6,310.4 526.0,309.6 526.2,308.4 527.0,307.1 527.2,305.8 527.3,304.8 527.8,305.2 528.6,303.7 529.5,302.1 530.4,300.6 531.2,300.3 531.4,299.6 532.6,298.8 533.6,299.2 534.1,300.5 534.6,301.4 535.0,301.3 536.0,302.3 536.4,303.0 537.0,304.1 537.6,304.9 539.0,305.0 540.2,304.7 541.0,303.2 541.2,302.7 542.3,301.5 543.1,301.8 543.4,303.3 544.0,304.7 544.7,305.2 545.6,306.6 546.7,307.3 547.9,307.0 548.6,308.6 549.9,309.7 551.0,310.5 551.9,309.3 553.3,308.4 554.2,306.9 554.8,306.5 555.1,305.9 556.6,304.8 557.3,303.8 558.8,302.9 558.2,303.8 559.0,305.1 559.6,305.7 559.9,307.5 560.2,308.8 560.7,308.4 561.4,310.0 561.4,311.0 561.7,311.3 562.8,310.6 562.8,310.0 563.8,308.9 563.8,307.8 564.7,307.4 566.3,306.7 567.1,306.5 568.7,305.9 569.7,304.7 570.6,305.2 571.4,305.4 572.1,304.7 573.3,305.4 574.0,305.1 574.8,307.0 576.1,306.2 576.8,307.4 577.9,308.4 579.2,308.6 580.1,308.9 580.8,308.5 581.6,308.2 582.8,308.2 583.1,306.8 584.9,306.6 586.4,306.7 587.6,306.1 588.7,305.9 589.1,305.0 590.2,304.1 591.5,304.0 592.4,304.0 593.3,304.4 594.4,305.4 595.6,306.0 596.3,305.5 597.4,306.0 599.2,306.4 599.5,305.8 601.1,306.5 602.7,306.4 604.4,305.9 604.9,307.2 606.3,306.2 606.9,306.0 608.0,306.8 610.0,306.9 610.0,305.2 610.0,305.2 609.8,303.4 610.2,302.5 610.2,301.4 610.5,300.1 610.3,299.0 610.2,298.0 610.4,297.1" fill="none" stroke="#0000ff" stroke-width="4.6" stroke-linejoin="round" stroke-linecap="round"/>
<line x1="608.9" y1="296.7" x2="727.5" y2="296.7" stroke="#0000ff" stroke-width="4.3"/>
<clipPath id="cp1"><rect x="612.9" y="108" width="114.6" height="310.5"/></clipPath>
<line x1="275.5" y1="296.5" x2="727.5" y2="296.5" stroke="#000010" stroke-width="1.4" stroke-dasharray="20.3 13" clip-path="url(#cp1)"/>
<line x1="276" y1="120.5" x2="727" y2="120.5" stroke="#00ff00" stroke-width="3"/>
<line x1="610.9" y1="108" x2="610.9" y2="418.5" stroke="#00ffff" stroke-width="2.9"/>
<line x1="275.5" y1="108" x2="275.5" y2="419" stroke="#0000ff" stroke-width="1"/>
<line x1="727.5" y1="108" x2="727.5" y2="419" stroke="#262626" stroke-width="1"/>
<line x1="275" y1="418.5" x2="728" y2="418.5" stroke="#262626" stroke-width="1"/>
<text x="274.7" y="447.9" font-size="20.83" fill="#262626" text-anchor="middle">0</text>
<line x1="331.5" y1="418" x2="331.5" y2="414" stroke="#262626" stroke-width="1"/>
<text x="331.2" y="447.9" font-size="20.83" fill="#262626" text-anchor="middle">3</text>
<line x1="388.5" y1="418" x2="388.5" y2="414" stroke="#262626" stroke-width="1"/>
<text x="387.7" y="447.9" font-size="20.83" fill="#262626" text-anchor="middle">6</text>
<line x1="444.5" y1="418" x2="444.5" y2="414" stroke="#262626" stroke-width="1"/>
<text x="444.2" y="447.9" font-size="20.83" fill="#262626" text-anchor="middle">9</text>
<line x1="501.5" y1="418" x2="501.5" y2="414" stroke="#262626" stroke-width="1"/>
<text x="500.7" y="447.9" font-size="20.83" fill="#262626" text-anchor="middle">12</text>
<line x1="557.5" y1="418" x2="557.5" y2="414" stroke="#262626" stroke-width="1"/>
<text x="557.2" y="447.9" font-size="20.83" fill="#262626" text-anchor="middle">15</text>
<line x1="614.5" y1="418" x2="614.5" y2="414" stroke="#262626" stroke-width="1"/>
<text x="613.7" y="447.9" font-size="20.83" fill="#262626" text-anchor="middle">18</text>
<line x1="670.5" y1="418" x2="670.5" y2="414" stroke="#262626" stroke-width="1"/>
<text x="670.2" y="447.9" font-size="20.83" fill="#262626" text-anchor="middle">21</text>
<text x="726.7" y="447.9" font-size="20.83" fill="#262626" text-anchor="middle">24</text>
<text x="501" y="479" font-size="22.9" fill="#262626" text-anchor="middle">UT Time /h</text>
<line x1="276" y1="120.5" x2="280.5" y2="120.5" stroke="#0000ff" stroke-width="1"/>
<text x="265.3" y="128" font-size="20.83" fill="#0000ff" text-anchor="end">200</text>
<line x1="276" y1="164.5" x2="280.5" y2="164.5" stroke="#0000ff" stroke-width="1"/>
<text x="265.3" y="172.1" font-size="20.83" fill="#0000ff" text-anchor="end">150</text>
<line x1="276" y1="208.5" x2="280.5" y2="208.5" stroke="#0000ff" stroke-width="1"/>
<text x="265.3" y="216.2" font-size="20.83" fill="#0000ff" text-anchor="end">100</text>
<line x1="276" y1="252.5" x2="280.5" y2="252.5" stroke="#0000ff" stroke-width="1"/>
<text x="265.3" y="260.3" font-size="20.83" fill="#0000ff" text-anchor="end">50</text>
<line x1="276" y1="296.5" x2="280.5" y2="296.5" stroke="#0000ff" stroke-width="1"/>
<text x="265.3" y="304.3" font-size="20.83" fill="#0000ff" text-anchor="end">0</text>
<line x1="276" y1="340.5" x2="280.5" y2="340.5" stroke="#0000ff" stroke-width="1"/>
<text x="265.3" y="348.2" font-size="20.83" fill="#0000ff" text-anchor="end">-50</text>
<line x1="276" y1="384.5" x2="280.5" y2="384.5" stroke="#0000ff" stroke-width="1"/>
<text x="265.3" y="392.1" font-size="20.83" fill="#0000ff" text-anchor="end">-100</text>
<line x1="727" y1="137.5" x2="722.5" y2="137.5" stroke="#262626" stroke-width="1"/>
<text x="736.5" y="145.6" font-size="20.83" fill="#262626">30</text>
<line x1="727" y1="190.5" x2="722.5" y2="190.5" stroke="#262626" stroke-width="1"/>
<text x="736.5" y="198.4" font-size="20.83" fill="#262626">20</text>
<line x1="727" y1="243.5" x2="722.5" y2="243.5" stroke="#262626" stroke-width="1"/>
<text x="736.5" y="251.2" font-size="20.83" fill="#262626">10</text>
<line x1="727" y1="296.5" x2="722.5" y2="296.5" stroke="#262626" stroke-width="1"/>
<text x="736.5" y="304.3" font-size="20.83" fill="#262626">0</text>
<line x1="727" y1="349.5" x2="722.5" y2="349.5" stroke="#262626" stroke-width="1"/>
<text x="736.5" y="357.1" font-size="20.83" fill="#262626">-10</text>
<line x1="727" y1="402.5" x2="722.5" y2="402.5" stroke="#262626" stroke-width="1"/>
<text x="736.5" y="409.8" font-size="20.83" fill="#262626">-20</text>
<text x="208.2" y="265" font-size="16.67" fill="#0000ff" text-anchor="middle" transform="rotate(-90 208.2 265)">X Mean Magnetic Field / nT</text>
<text x="794.1" y="265" font-size="16.67" fill="#000000" text-anchor="middle" transform="rotate(-90 794.1 265)">Rate of Change / nT/min</text>
<rect x="604.9" y="104.2" width="110.2" height="39.1" fill="#ffffff" stroke="#00ffff" stroke-width="1.05"/>
<text x="611.3" y="130.8" font-size="20.83" fill="#000000">time now</text>
<rect x="870" y="108" width="111.15" height="310" fill="#e6e6e6"/>
<rect x="869" y="108" width="1" height="310" fill="#f6f6e6"/>
<rect x="1227.53" y="108" width="92.47" height="310" fill="#e6e6e6"/>
<text x="1103" y="62.2" font-size="25.1" fill="#000000" text-anchor="middle">Eyrewell</text>
<text x="869.8" y="99.9" font-size="12.53" fill="#000000">File Updated:10-Oct-2025 17:48:11 UTC</text>
<text x="1313.3" y="107" font-size="14.58" fill="#000000" text-anchor="end">minute resolution</text>
<polyline points="869.0,256.2 869.3,275.7 869.6,259.1 869.9,290.0 870.3,249.9 870.6,263.0 870.9,257.9 871.2,263.6 871.5,258.9 871.8,270.0 872.1,237.6 872.5,210.2 872.8,217.9 873.1,217.9 873.4,214.7 873.7,220.1 874.0,222.7 874.3,207.4 874.7,202.3 875.0,194.4 875.3,185.7 875.6,199.9 875.9,209.1 876.2,212.1 876.5,216.2 876.8,211.5 877.2,203.8 877.5,219.8 877.8,225.4 878.1,239.3 878.4,242.3 878.7,258.3 879.0,265.2 879.4,266.6 879.7,266.0 880.0,282.1 880.3,297.1 880.6,280.5 880.9,273.0 881.2,291.1 881.6,279.6 881.9,284.9 882.2,280.0 882.5,268.9 882.8,283.1 883.1,287.8 883.4,267.3 883.8,270.9 884.1,273.5 884.4,193.0 884.7,251.8 885.0,244.1 885.3,240.8 885.6,239.5 886.0,289.0 886.3,245.1 886.6,234.2 886.9,250.4 887.2,245.6 887.5,247.0 887.8,239.6 888.2,222.6 888.5,181.7 888.8,242.9 889.1,194.1 889.4,256.3 889.7,250.5 890.0,256.2 890.4,252.7 890.7,246.5 891.0,253.8 891.3,252.2 891.6,264.1 891.9,244.9 892.2,247.7 892.5,243.4 892.9,248.6 893.2,240.4 893.5,251.4 893.8,252.7 894.1,253.8 894.4,254.0 894.7,251.9 895.1,229.3 895.4,242.1 895.7,249.1 896.0,252.8 896.3,260.9 896.6,262.9 896.9,246.1 897.3,264.9 897.6,254.4 897.9,249.5 898.2,244.7 898.5,255.3 898.8,316.2 899.1,269.2 899.5,255.9 899.8,238.8 900.1,250.5 900.4,227.9 900.7,231.5 901.0,287.4 901.3,250.5 901.7,264.2 902.0,248.5 902.3,256.9 902.6,253.0 902.9,245.0 903.2,260.5 903.5,253.1 903.9,263.0 904.2,265.5 904.5,280.5 904.8,276.6 905.1,259.4 905.4,255.4 905.7,251.3 906.1,246.8 906.4,231.5 906.7,241.3 907.0,196.0 907.3,233.4 907.6,232.4 907.9,226.4 908.2,237.0 908.6,238.0 908.9,234.4 909.2,219.2 909.5,225.8 909.8,234.6 910.1,243.0 910.4,232.0 910.8,246.2 911.1,226.5 911.4,244.9 911.7,244.3 912.0,240.8 912.3,244.9 912.6,256.2 913.0,250.1 913.3,250.4 913.6,223.7 913.9,310.0 914.2,197.0 914.5,202.2 914.8,213.5 915.2,212.8 915.5,223.5 915.8,231.4 916.1,254.0 916.4,245.6 916.7,242.4 917.0,237.1 917.4,245.9 917.7,234.1 918.0,241.0 918.3,225.3 918.6,243.6 918.9,292.0 919.2,245.7 919.6,238.9 919.9,198.0 920.2,253.5 920.5,249.1 920.8,266.2 921.1,252.2 921.4,260.8 921.8,254.2 922.1,280.8 922.4,276.7 922.7,260.7 923.0,265.1 923.3,267.4 923.6,253.7 923.9,255.3 924.3,241.3 924.6,247.9 924.9,250.2 925.2,243.1 925.5,251.0 925.8,229.1 926.1,226.6 926.5,218.9 926.8,208.6 927.1,217.1 927.4,222.4 927.7,225.2 928.0,197.0 928.3,224.0 928.7,238.8 929.0,216.8 929.3,225.8 929.6,233.5 929.9,219.6 930.2,229.5 930.5,196.5 930.9,201.4 931.2,234.6 931.5,204.7 931.8,226.1 932.1,215.2 932.4,216.5 932.7,220.6 933.1,230.9 933.4,243.2 933.7,218.8 934.0,240.9 934.3,239.0 934.6,237.3 934.9,235.9 935.3,234.3 935.6,222.1 935.9,216.7 936.2,234.7 936.5,239.5 936.8,268.8 937.1,247.2 937.5,248.0 937.8,242.8 938.1,252.8 938.4,236.9 938.7,248.4 939.0,241.9 939.3,244.0 939.6,231.0 940.0,231.8 940.3,224.6 940.6,249.6 940.9,233.1 941.2,233.1 941.5,227.5 941.8,229.0 942.2,243.7 942.5,249.8 942.8,245.6 943.1,245.1 943.4,243.5 943.7,235.5 944.0,244.9 944.4,234.9 944.7,239.6 945.0,253.4 945.3,262.3 945.6,253.8 945.9,246.0 946.2,252.8 946.6,197.0 946.9,260.2 947.2,259.9 947.5,258.3 947.8,240.9 948.1,246.3 948.4,255.8 948.8,203.1 949.1,228.0 949.4,244.4 949.7,244.2 950.0,261.8 950.3,252.9 950.6,230.5 951.0,229.2 951.3,242.6 951.6,239.1 951.9,247.0 952.2,249.3 952.5,267.0 952.8,269.3 953.2,275.0 953.5,248.9 953.8,242.4 954.1,256.7 954.4,285.7 954.7,232.8 955.0,238.9 955.3,218.8 955.7,215.1 956.0,211.4 956.3,202.0 956.6,229.1 956.9,212.6 957.2,210.3 957.5,200.9 957.9,212.2 958.2,203.4 958.5,225.5 958.8,232.0 959.1,220.5 959.4,217.8 959.7,238.3 960.1,241.5 960.4,239.3 960.7,244.6 961.0,238.1 961.3,233.3 961.6,223.5 961.9,228.4 962.3,236.2 962.6,233.0 962.9,243.8 963.2,225.8 963.5,237.6 963.8,244.8 964.1,240.5 964.5,232.3 964.8,250.6 965.1,235.3 965.4,231.6 965.7,244.3 966.0,234.8 966.3,247.8 966.7,247.4 967.0,251.8 967.3,247.6 967.6,252.1 967.9,265.9 968.2,248.0 968.5,258.6 968.9,255.1 969.2,241.7 969.5,257.4 969.8,252.9 970.1,247.7 970.4,249.3 970.7,250.1 971.0,238.8 971.4,238.2 971.7,251.5 972.0,247.4 972.3,259.8 972.6,251.6 972.9,250.0 973.2,261.8 973.6,262.2 973.9,261.6 974.2,255.1 974.5,257.5 974.8,257.2 975.1,254.1 975.4,280.2 975.8,257.9 976.1,272.6 976.4,278.3 976.7,272.9 977.0,255.7 977.3,271.7 977.6,264.9 978.0,255.9 978.3,257.4 978.6,248.6 978.9,257.4 979.2,258.4 979.5,247.7 979.8,253.8 980.2,254.3 980.5,253.5 980.8,253.7 981.1,313.0 981.4,256.9 981.7,219.7 982.0,200.0 982.4,251.0 982.7,251.0 983.0,253.5 983.3,250.0 983.6,243.0 983.9,262.0 984.2,244.2 984.6,283.5 984.9,244.0 985.2,237.4 985.5,243.4 985.8,224.8 986.1,249.4 986.4,251.1 986.7,250.7 987.1,243.8 987.4,249.6 987.7,252.1 988.0,263.5 988.3,264.4 988.6,266.1 988.9,301.4 989.3,262.9 989.6,245.4 989.9,249.6 990.2,247.3 990.5,241.6 990.8,231.0 991.1,237.3 991.5,245.5 991.8,243.7 992.1,254.7 992.4,185.0 992.7,244.5 993.0,304.0 993.3,246.1 993.7,246.0 994.0,242.5 994.3,249.8 994.6,253.0 994.9,249.5 995.2,242.9 995.5,253.6 995.9,246.6 996.2,248.6 996.5,260.5 996.8,247.5 997.1,255.5 997.4,262.5 997.7,236.4 998.1,243.6 998.4,237.6 998.7,243.3 999.0,225.4 999.3,216.8 999.6,234.8 999.9,229.4 1000.3,229.1 1000.6,220.4 1000.9,215.6 1001.2,229.5 1001.5,237.6 1001.8,233.7 1002.1,243.2 1002.4,245.2 1002.8,245.8 1003.1,254.0 1003.4,248.2 1003.7,271.7 1004.0,234.7 1004.3,245.4 1004.6,266.0 1005.0,252.5 1005.3,244.7 1005.6,236.6 1005.9,252.6 1006.2,199.1 1006.5,198.2 1006.8,254.7 1007.2,272.7 1007.5,253.5 1007.8,270.9 1008.1,259.7 1008.4,253.4 1008.7,253.6 1009.0,250.0 1009.4,252.2 1009.7,237.5 1010.0,220.0 1010.3,230.2 1010.6,239.5 1010.9,236.6 1011.2,223.9 1011.6,225.4 1011.9,251.0 1012.2,238.8 1012.5,242.4 1012.8,234.8 1013.1,244.0 1013.4,244.5 1013.8,255.9 1014.1,258.0 1014.4,253.2 1014.7,258.5 1015.0,250.5 1015.3,254.0 1015.6,263.5 1016.0,261.9 1016.3,242.8 1016.6,236.0 1016.9,245.9 1017.2,235.4 1017.5,240.6 1017.8,221.1 1018.1,235.8 1018.5,244.0 1018.8,249.5 1019.1,248.8 1019.4,254.4 1019.7,243.7 1020.0,234.3 1020.3,233.1 1020.7,232.3 1021.0,229.2 1021.3,236.5 1021.6,227.4 1021.9,235.7 1022.2,234.0 1022.5,206.2 1022.9,243.9 1023.2,242.3 1023.5,247.5 1023.8,243.7 1024.1,253.7 1024.4,248.8 1024.7,257.2 1025.1,238.9 1025.4,255.8 1025.7,252.0 1026.0,231.9 1026.3,214.3 1026.6,234.1 1026.9,233.9 1027.3,231.3 1027.6,252.2 1027.9,254.9 1028.2,238.2 1028.5,234.4 1028.8,190.3 1029.1,238.0 1029.5,233.1 1029.8,225.0 1030.1,240.8 1030.4,248.4 1030.7,259.6 1031.0,256.3 1031.3,250.0 1031.7,245.6 1032.0,243.8 1032.3,267.9 1032.6,261.7 1032.9,257.4 1033.2,261.3 1033.5,258.8 1033.8,266.1 1034.2,264.3 1034.5,272.4 1034.8,249.6 1035.1,238.0 1035.4,253.0 1035.7,231.5 1036.0,283.5 1036.4,242.5 1036.7,238.4 1037.0,235.8 1037.3,241.5 1037.6,246.6 1037.9,241.6 1038.2,238.3 1038.6,244.0 1038.9,218.3 1039.2,240.9 1039.5,188.6 1039.8,254.5 1040.1,195.0 1040.4,251.3 1040.8,257.0 1041.1,300.0 1041.4,251.0 1041.7,267.2 1042.0,263.6 1042.3,261.4 1042.6,269.7 1043.0,252.3 1043.3,249.9 1043.6,258.3 1043.9,245.3 1044.2,248.9 1044.5,261.9 1044.8,250.6 1045.2,243.0 1045.5,239.7 1045.8,238.0 1046.1,247.5 1046.4,248.9 1046.7,251.8 1047.0,260.3 1047.4,262.8 1047.7,259.4 1048.0,263.5 1048.3,261.5 1048.6,261.1 1048.9,240.9 1049.2,239.7 1049.5,237.3 1049.9,236.5 1050.2,249.7 1050.5,278.7 1050.8,259.5 1051.1,254.8 1051.4,247.8 1051.7,251.8 1052.1,242.4 1052.4,261.5 1052.7,233.6 1053.0,231.0 1053.3,234.9 1053.6,245.5 1053.9,244.6 1054.3,236.6 1054.6,230.1 1054.9,194.0 1055.2,236.8 1055.5,234.3 1055.8,236.5 1056.1,290.0 1056.5,275.8 1056.8,204.4 1057.1,224.2 1057.4,237.6 1057.7,246.3 1058.0,257.9 1058.3,258.1 1058.7,266.1 1059.0,278.9 1059.3,260.2 1059.6,248.0 1059.9,262.0 1060.2,264.6 1060.5,267.7 1060.9,249.8 1061.2,252.6 1061.5,178.5 1061.8,244.2 1062.1,281.1 1062.4,300.0 1062.7,227.3 1063.1,238.2 1063.4,239.5 1063.7,242.7 1064.0,267.5 1064.3,251.3 1064.6,287.5 1064.9,296.6 1065.2,324.6 1065.6,240.7 1065.9,243.3 1066.2,230.0 1066.5,226.3 1066.8,233.3 1067.1,252.5 1067.4,231.6 1067.8,235.4 1068.1,243.3 1068.4,235.1 1068.7,277.6 1069.0,230.0 1069.3,229.8 1069.6,214.8 1070.0,215.7 1070.3,211.2 1070.6,208.6 1070.9,235.8 1071.2,206.3 1071.5,220.4 1071.8,211.5 1072.2,216.8 1072.5,232.2 1072.8,246.8 1073.1,222.5 1073.4,264.2 1073.7,253.5 1074.0,241.5 1074.4,256.3 1074.7,255.8 1075.0,245.6 1075.3,228.5 1075.6,236.6 1075.9,249.1 1076.2,241.0 1076.6,229.0 1076.9,239.5 1077.2,246.8 1077.5,247.6 1077.8,255.5 1078.1,261.4 1078.4,255.4 1078.8,255.5 1079.1,230.6 1079.4,229.1 1079.7,232.2 1080.0,233.8 1080.3,232.2 1080.6,234.3 1080.9,236.8 1081.3,245.8 1081.6,235.9 1081.9,248.6 1082.2,237.3 1082.5,220.4 1082.8,234.0 1083.1,229.2 1083.5,232.6 1083.8,249.6 1084.1,237.5 1084.4,249.4 1084.7,241.3 1085.0,229.1 1085.3,217.9 1085.7,229.7 1086.0,233.9 1086.3,260.9 1086.6,323.0 1086.9,243.0 1087.2,248.7 1087.5,215.0 1087.9,255.2 1088.2,269.2 1088.5,240.3 1088.8,255.4 1089.1,265.7 1089.4,248.9 1089.7,267.1 1090.1,266.4 1090.4,257.5 1090.7,260.2 1091.0,266.6 1091.3,272.9 1091.6,229.8 1091.9,271.5 1092.3,259.3 1092.6,252.9 1092.9,244.4 1093.2,252.3 1093.5,243.1 1093.8,244.7 1094.1,263.9 1094.5,261.3 1094.8,249.6 1095.1,253.9 1095.4,260.7 1095.7,254.9 1096.0,256.8 1096.3,257.6 1096.7,241.9 1097.0,251.3 1097.3,252.5 1097.6,269.9 1097.9,267.8 1098.2,262.6 1098.5,260.7 1098.8,276.2 1099.2,266.7 1099.5,264.6 1099.8,264.5 1100.1,266.1 1100.4,273.9 1100.7,281.0 1101.0,274.3 1101.4,274.1 1101.7,268.3 1102.0,259.2 1102.3,243.2 1102.6,237.4 1102.9,249.5 1103.2,247.0 1103.6,259.4 1103.9,252.8 1104.2,249.9 1104.5,252.4 1104.8,249.9 1105.1,243.5 1105.4,252.7 1105.8,243.8 1106.1,239.3 1106.4,252.2 1106.7,262.7 1107.0,248.3 1107.3,239.1 1107.6,247.3 1108.0,241.5 1108.3,253.5 1108.6,238.9 1108.9,226.6 1109.2,235.3 1109.5,245.4 1109.8,239.7 1110.2,227.4 1110.5,233.8 1110.8,219.4 1111.1,221.9 1111.4,226.8 1111.7,219.4 1112.0,227.8 1112.4,234.0 1112.7,234.4 1113.0,216.3 1113.3,239.1 1113.6,244.4 1113.9,252.2 1114.2,253.9 1114.5,243.7 1114.9,238.7 1115.2,278.1 1115.5,244.5 1115.8,246.9 1116.1,231.0 1116.4,236.1 1116.7,240.9 1117.1,239.3 1117.4,238.5 1117.7,253.7 1118.0,250.7 1118.3,244.3 1118.6,249.6 1118.9,252.6 1119.3,251.6 1119.6,262.6 1119.9,244.7 1120.2,256.4 1120.5,254.7 1120.8,256.3 1121.1,252.6 1121.5,257.1 1121.8,267.6 1122.1,258.9 1122.4,263.3 1122.7,263.9 1123.0,248.4 1123.3,246.8 1123.7,245.6 1124.0,232.9 1124.3,240.3 1124.6,240.1 1124.9,245.1 1125.2,236.5 1125.5,257.2 1125.9,248.9 1126.2,232.5 1126.5,238.6 1126.8,237.6 1127.1,235.6 1127.4,245.3 1127.7,232.3 1128.1,243.2 1128.4,240.2 1128.7,243.9 1129.0,235.1 1129.3,235.4 1129.6,224.7 1129.9,228.0 1130.2,227.7 1130.6,238.6 1130.9,239.7 1131.2,232.4 1131.5,232.3 1131.8,230.2 1132.1,242.2 1132.4,240.0 1132.8,241.5 1133.1,248.8 1133.4,242.6 1133.7,241.7 1134.0,231.7 1134.3,255.3 1134.6,234.6 1135.0,240.6 1135.3,240.0 1135.6,241.0 1135.9,237.2 1136.2,235.1 1136.5,250.0 1136.8,251.6 1137.2,248.7 1137.5,242.4 1137.8,238.5 1138.1,249.9 1138.4,240.2 1138.7,235.9 1139.0,235.0 1139.4,239.4 1139.7,240.0 1140.0,214.6 1140.3,222.9 1140.6,237.7 1140.9,239.3 1141.2,235.4 1141.6,232.1 1141.9,239.3 1142.2,226.9 1142.5,238.9 1142.8,227.9 1143.1,235.7 1143.4,241.1 1143.8,243.7 1144.1,244.2 1144.4,250.4 1144.7,251.7 1145.0,254.0 1145.3,246.7 1145.6,253.6 1145.9,251.9 1146.3,258.8 1146.6,256.4 1146.9,248.5 1147.2,259.0 1147.5,241.7 1147.8,242.2 1148.1,249.4 1148.5,249.1 1148.8,249.0 1149.1,240.8 1149.4,261.3 1149.7,238.8 1150.0,233.3 1150.3,231.8 1150.7,240.9 1151.0,247.8 1151.3,245.0 1151.6,244.0 1151.9,245.2 1152.2,251.8 1152.5,243.9 1152.9,241.6 1153.2,244.1 1153.5,247.4 1153.8,256.3 1154.1,252.6 1154.4,245.8 1154.7,242.5 1155.1,239.3 1155.4,245.2 1155.7,243.0 1156.0,228.1 1156.3,226.2 1156.6,230.3 1156.9,231.7 1157.3,209.5 1157.6,232.1 1157.9,236.1 1158.2,236.1 1158.5,242.9 1158.8,235.3 1159.1,236.2 1159.5,237.4 1159.8,240.5 1160.1,236.3 1160.4,236.1 1160.7,241.6 1161.0,243.1 1161.3,234.2 1161.6,244.8 1162.0,247.9 1162.3,243.5 1162.6,241.6 1162.9,234.7 1163.2,233.5 1163.5,240.6 1163.8,243.5 1164.2,251.4 1164.5,241.4 1164.8,246.1 1165.1,250.9 1165.4,258.2 1165.7,251.2 1166.0,249.7 1166.4,256.3 1166.7,251.8 1167.0,253.8 1167.3,249.2 1167.6,249.3 1167.9,246.1 1168.2,247.7 1168.6,249.8 1168.9,240.8 1169.2,249.7 1169.5,254.5 1169.8,247.0 1170.1,245.0 1170.4,253.3 1170.8,237.7 1171.1,241.8 1171.4,243.5 1171.7,244.7 1172.0,247.1 1172.3,244.1 1172.6,240.3 1173.0,244.1 1173.3,249.2 1173.6,251.0 1173.9,246.2 1174.2,256.1 1174.5,245.7 1174.8,236.9 1175.2,232.9 1175.5,250.3 1175.8,232.8 1176.1,234.5 1176.4,240.8 1176.7,230.5 1177.0,229.9 1177.3,229.9 1177.7,232.8 1178.0,233.6 1178.3,233.6 1178.6,229.0 1178.9,219.1 1179.2,220.2 1179.5,224.6 1179.9,217.6 1180.2,218.8 1180.5,220.9 1180.8,228.1 1181.1,233.4 1181.4,234.5 1181.7,230.8 1182.1,232.6 1182.4,235.9 1182.7,232.3 1183.0,234.5 1183.3,231.8 1183.6,227.1 1183.9,237.7 1184.3,233.9 1184.6,231.4 1184.9,235.0 1185.2,237.1 1185.5,241.7 1185.8,253.7 1186.1,247.1 1186.5,252.2 1186.8,256.2 1187.1,242.2 1187.4,253.1 1187.7,249.8 1188.0,248.3 1188.3,246.4 1188.7,246.8 1189.0,243.2 1189.3,240.3 1189.6,239.1 1189.9,238.3 1190.2,249.4 1190.5,243.9 1190.9,240.8 1191.2,242.3 1191.5,241.0 1191.8,236.5 1192.1,241.3 1192.4,242.1 1192.7,240.5 1193.0,240.9 1193.4,236.4 1193.7,233.4 1194.0,232.3 1194.3,232.4 1194.6,232.0 1194.9,243.1 1195.2,238.1 1195.6,236.2 1195.9,237.5 1196.2,239.5 1196.5,242.4 1196.8,243.0 1197.1,248.6 1197.4,244.6 1197.8,243.6 1198.1,243.7 1198.4,244.8 1198.7,250.3 1199.0,244.4 1199.3,244.6 1199.6,253.9 1200.0,252.9 1200.3,251.0 1200.6,253.7 1200.9,251.9 1201.2,243.6 1201.5,248.9 1201.8,245.2 1202.2,249.0 1202.5,244.5 1202.8,249.4" fill="none" stroke="#000" stroke-opacity="0.45" stroke-width="0.5" stroke-linejoin="round"/>
<line x1="868.5" y1="244.6" x2="1204.9" y2="244.6" stroke="#1c1c1c" stroke-width="1.25" stroke-dasharray="20.3 13"/>
<polyline points="868.9,379.8 869.6,380.8 870.4,381.2 870.5,382.3 871.3,383.7 871.6,384.7 871.7,385.7 871.6,387.1 872.6,385.9 872.6,384.0 873.3,383.6 874.0,382.8 874.4,381.6 874.8,381.1 875.0,380.7 875.6,379.5 876.0,378.0 876.7,377.5 877.6,376.8 878.0,375.6 878.2,375.5 878.3,374.1 878.8,372.4 878.9,372.5 878.7,370.9 879.3,369.7 879.6,369.0 879.4,368.4 880.0,367.4 880.4,366.2 880.4,364.5 880.9,363.8 881.0,362.6 881.2,361.9 882.0,360.3 881.8,360.3 882.9,361.4 882.7,361.0 883.7,362.7 883.5,364.4 884.1,365.1 884.0,366.2 884.4,367.3 884.3,368.3 884.0,369.6 884.6,370.3 884.1,370.9 884.8,371.4 885.6,373.3 886.4,374.4 887.0,374.7 887.2,376.1 887.3,377.4 887.4,377.9 888.0,379.2 887.8,380.6 888.5,381.1 888.1,382.3 888.6,383.2 889.1,383.8 889.3,384.7 889.1,386.5 889.7,385.5 889.8,384.2 890.1,383.3 890.2,382.1 890.7,380.9 890.9,380.0 891.4,379.0 891.1,377.7 891.4,377.2 891.6,376.0 892.3,373.8 891.9,374.0 892.4,373.0 893.2,372.8 894.4,371.9 895.0,373.4 894.5,374.3 894.7,375.4 894.3,376.3 895.3,377.1 895.2,379.1 895.6,380.4 895.1,378.6 895.6,378.0 896.0,375.6 896.1,375.1 896.2,374.1 896.2,374.2 896.2,372.7 896.6,371.7 896.5,371.3 896.9,369.5 897.4,368.1 897.1,367.4 897.1,366.8 897.3,365.7 897.0,363.7 897.7,362.9 897.5,361.6 898.1,361.4 898.3,359.7 898.1,358.5 898.4,358.6 898.3,357.5 899.0,355.8 898.8,355.4 899.6,353.5 900.1,352.9 900.7,351.3 901.0,351.3 901.2,349.6 900.8,349.0 901.1,347.6 901.5,346.4 900.8,345.3 901.1,344.7 901.6,343.0 901.7,342.6 901.8,341.7 901.9,340.6 902.3,339.7 902.0,338.4 901.9,336.5 901.9,336.3 902.2,334.8 902.5,333.8 902.5,332.8 903.1,331.7 902.9,331.0 902.9,329.0 902.9,328.9 902.8,327.2 903.4,326.7 903.3,325.6 903.4,323.7 903.2,322.9 903.9,321.9 903.8,320.7 903.9,320.0 904.2,319.1 904.1,318.0 904.7,316.0 905.3,315.7 904.9,314.4 906.5,313.8 907.8,313.5 908.8,314.1 909.9,315.0 910.0,314.9 910.4,317.4 910.5,317.8 911.2,318.3 911.2,321.1 911.0,321.4 911.7,322.1 911.5,323.5 911.3,324.2 911.7,325.6 911.7,326.1 911.6,327.1 912.0,328.3 911.8,328.9 912.6,330.8 912.3,330.2 912.3,332.6 912.7,333.6 912.4,334.6 912.1,335.8 912.6,336.1 912.9,338.2 912.4,338.2 912.9,339.6 912.8,340.1 913.4,342.0 912.8,342.0 913.5,344.0 913.6,344.9 913.1,345.7 913.0,346.3 913.5,347.9 913.4,348.6 913.8,349.9 913.9,350.8 913.8,352.1 913.9,352.5 913.9,353.9 914.1,355.0 914.2,356.1 914.3,356.5 914.5,358.5 914.6,359.1 914.7,359.8 914.3,361.3 914.6,362.6 914.7,362.2 914.8,365.1 915.0,364.9 915.0,366.7 915.4,367.6 915.7,366.8 915.5,365.8 915.9,364.9 915.9,363.0 915.7,362.8 915.8,361.9 916.0,360.8 915.9,360.5 916.3,358.3 916.2,358.4 916.2,356.7 916.6,355.3 916.2,354.4 916.6,353.7 916.8,352.3 916.9,351.5 916.9,350.2 916.9,349.5 916.8,347.9 917.2,346.5 917.2,345.3 917.2,345.3 917.6,344.1 917.5,342.5 919.2,341.8 919.1,342.2 918.9,342.8 919.1,344.9 918.6,345.5 919.2,345.8 918.7,347.1 919.0,348.0 919.2,349.6 919.4,350.8 919.6,352.0 919.0,352.3 919.1,353.1 919.4,354.6 919.6,352.9 919.4,352.5 919.7,351.4 919.9,350.3 920.2,349.7 920.1,348.3 920.2,346.4 920.2,346.6 920.2,345.7 920.7,344.0 920.7,343.4 921.0,342.7 921.0,341.1 921.1,340.3 921.4,339.4 921.2,337.7 921.4,336.9 921.3,336.1 921.6,335.1 921.9,333.8 922.4,332.8 922.3,331.9 922.4,329.8 922.2,329.9 922.7,329.8 922.8,328.3 923.1,327.1 923.3,325.7 923.5,324.2 923.8,323.3 923.9,323.6 924.0,321.6 924.5,320.6 924.3,319.7 924.8,318.9 924.7,318.3 925.5,316.5 925.4,315.3 925.8,314.2 925.9,313.3 925.8,312.8 926.4,311.4 926.1,310.8 926.4,309.5 926.8,308.8 926.5,308.3 926.8,306.7 926.7,305.3 926.6,305.0 927.4,302.8 927.0,301.6 927.6,301.0 927.5,300.1 927.6,298.7 927.7,297.6 927.8,297.3 928.0,296.0 927.8,295.2 927.9,294.7 928.3,293.0 928.1,291.8 928.1,290.9 928.4,290.2 928.6,289.9 928.4,288.0 929.2,286.2 928.6,286.0 928.8,285.1 928.8,284.0 929.0,283.2 928.7,281.5 929.2,280.4 929.2,280.0 929.5,279.0 930.0,277.8 930.1,276.5 929.9,275.5 930.5,274.3 930.6,273.7 930.7,272.6 931.6,271.0 931.5,270.1 932.1,269.3 932.3,267.8 932.5,267.1 932.5,266.8 933.5,264.6 933.9,264.3 934.2,263.6 934.7,264.5 936.3,265.5 936.2,266.2 936.6,267.8 937.7,268.8 937.8,270.5 937.9,268.3 938.4,267.8 938.3,266.0 938.9,265.6 938.8,264.4 939.2,263.7 939.7,262.4 940.0,261.8 940.8,260.1 941.1,258.9 941.3,258.4 942.0,256.9 942.0,256.2 942.1,255.1 942.7,254.2 943.0,252.2 943.6,252.1 944.2,251.3 945.1,249.7 946.0,248.3 945.9,247.9 946.3,246.9 946.3,245.7 946.4,245.6 946.3,244.9 946.5,242.9 946.8,242.4 946.6,240.0 947.1,240.3 947.2,240.0 947.2,238.0 947.5,237.1 947.8,235.4 947.6,233.3 948.1,233.5 948.4,233.4 948.5,231.2 949.1,232.0 949.7,233.6 950.5,234.4 950.8,235.7 951.4,236.2 951.8,237.1 951.8,238.7 952.6,238.6 953.0,240.1 952.7,241.6 953.3,242.3 953.6,242.9 953.5,244.3 954.1,244.8 954.4,245.9 955.2,246.7 955.8,247.0 956.5,249.2 957.7,248.0 958.1,248.1 958.8,246.9 960.0,247.4 960.7,247.9 961.2,248.9 962.2,248.6 963.7,247.1 964.1,246.8 965.1,247.6 966.4,248.0 967.4,248.3 968.6,247.5 969.5,247.2 970.0,248.8 970.6,249.4 971.1,251.3 971.5,251.8 972.2,252.9 972.0,254.8 973.1,254.0 973.1,256.0 973.6,257.1 973.8,257.4 974.2,259.3 974.6,257.5 975.4,256.2 975.9,255.8 976.6,254.8 976.6,253.8 977.1,252.7 977.4,252.2 977.9,251.6 977.8,249.6 977.7,249.5 978.4,247.7 978.9,246.1 979.1,245.6 978.7,244.6 979.5,242.6 979.6,242.4 979.7,241.5 980.0,240.1 980.1,239.0 980.2,237.7 980.2,237.7 980.4,235.9 980.5,234.4 981.2,234.0 981.6,232.7 981.9,231.8 982.1,232.0 982.6,233.3 982.7,234.0 983.0,235.5 983.4,235.7 983.7,237.3 983.7,238.5 984.1,239.0 984.5,240.8 984.4,241.4 984.6,243.2 985.0,243.8 985.2,244.6 986.0,244.2 985.7,246.5 986.0,247.1 986.9,248.5 986.5,249.9 986.9,251.1 987.5,251.7 988.3,252.8 988.4,251.2 989.6,251.5 989.8,250.8 990.3,249.6 989.9,248.1 990.7,247.5 990.9,245.1 991.0,245.3 991.6,243.6 991.2,242.9 991.7,241.7 991.9,240.4 991.9,239.5 992.3,238.3 992.3,237.9 993.0,236.0 993.4,235.5 993.2,234.0 993.6,233.2 993.5,231.0 993.9,231.0 993.8,229.6 993.9,228.5 993.7,227.3 993.9,226.3 993.8,225.7 993.9,224.7 994.2,223.5 994.9,222.4 994.7,221.4 995.2,219.6 995.3,219.4 995.6,218.3 996.0,217.5 996.2,216.4 996.2,215.1 996.4,213.9 996.6,212.3 996.7,211.9 996.8,210.9 997.3,209.8 998.3,208.0 998.5,207.6 999.4,208.7 999.0,206.5 1000.1,205.1 1000.4,203.2 1000.9,203.1 1000.9,201.6 1001.3,200.6 1001.4,199.5 1001.1,198.6 1001.9,197.8 1001.8,196.4 1002.4,195.4 1003.1,195.1 1003.3,192.5 1004.3,192.9 1005.4,191.8 1006.2,190.4 1007.0,189.4 1006.9,188.5 1008.3,188.8 1008.1,186.7 1008.7,185.8 1009.4,187.2 1009.4,189.0 1009.9,189.7 1010.5,190.6 1010.8,191.5 1010.5,192.0 1010.8,193.7 1011.2,195.1 1011.5,196.2 1011.4,197.0 1011.3,198.3 1012.3,199.5 1012.6,200.1 1013.3,201.1 1013.7,202.3 1014.1,203.5 1014.4,203.7 1014.8,204.5 1015.7,206.5 1015.9,206.9 1016.6,207.9 1017.0,207.9 1017.1,209.6 1018.0,210.4 1018.0,211.1 1018.5,211.8 1019.7,213.0 1020.2,215.4 1020.5,213.5 1020.3,212.5 1020.9,211.6 1021.0,210.3 1021.0,209.1 1021.1,208.7 1020.8,207.1 1021.3,205.9 1021.3,205.4 1022.0,204.3 1021.8,202.3 1022.2,202.0 1021.9,200.5 1022.0,199.5 1022.1,199.2 1022.2,198.1 1022.2,197.6 1022.3,195.2 1022.5,194.7 1022.4,193.9 1022.8,192.5 1023.1,194.6 1023.7,194.9 1023.9,195.8 1024.3,197.1 1026.3,195.8 1026.5,195.4 1026.9,194.5 1027.1,194.7 1027.1,192.3 1027.3,190.7 1027.4,190.9 1027.8,188.8 1027.8,188.8 1028.1,187.3 1028.5,186.9 1029.0,185.7 1028.8,184.2 1029.3,183.7 1029.2,182.1 1029.7,180.8 1029.9,179.1 1030.3,177.8 1031.1,179.8 1030.9,181.4 1031.7,181.1 1032.3,183.4 1032.5,183.6 1032.4,185.3 1032.5,186.2 1032.8,186.5 1032.5,187.6 1032.8,188.9 1033.2,190.3 1033.3,190.9 1033.4,192.6 1033.8,193.4 1033.8,195.0 1033.9,195.7 1034.5,196.4 1034.6,197.1 1034.9,198.8 1034.5,200.0 1034.9,201.4 1035.1,201.8 1035.5,202.8 1035.8,203.8 1036.2,205.1 1036.4,205.0 1036.9,207.3 1036.6,208.4 1038.2,209.2 1039.1,209.7 1039.8,209.1 1040.3,207.3 1040.7,205.6 1041.2,205.4 1041.5,204.3 1041.3,202.2 1041.4,201.5 1041.6,201.0 1042.0,199.6 1042.2,198.6 1042.4,197.9 1042.9,198.4 1042.8,200.3 1043.5,201.3 1043.5,201.8 1044.2,202.4 1044.5,204.4 1045.2,205.9 1045.2,205.8 1045.8,208.0 1045.9,205.9 1046.2,205.7 1046.3,204.1 1046.4,203.6 1046.4,201.4 1046.7,201.3 1046.8,200.4 1046.8,198.9 1047.0,198.2 1047.6,196.7 1047.8,196.5 1047.6,195.0 1047.9,193.7 1047.6,192.3 1047.8,192.3 1047.9,190.9 1047.8,189.8 1047.6,189.1 1047.9,187.2 1047.9,186.3 1048.3,186.1 1047.9,185.0 1048.5,183.3 1048.1,182.2 1048.3,181.7 1048.7,179.7 1049.1,178.8 1049.6,178.0 1049.6,177.1 1049.9,177.0 1050.5,175.7 1050.6,173.7 1050.6,173.1 1050.7,172.6 1051.0,171.0 1051.1,169.4 1051.7,169.8 1052.7,168.1 1053.3,167.8 1054.2,166.8 1054.2,166.2 1054.4,164.4 1054.5,163.8 1054.0,162.2 1054.2,161.3 1054.7,159.8 1054.3,159.7 1054.9,158.7 1054.6,157.5 1055.4,156.8 1055.1,155.1 1055.2,154.3 1055.6,152.9 1055.2,152.1 1055.5,151.0 1055.7,150.4 1056.0,148.5 1056.0,148.4 1055.9,146.8 1056.4,146.1 1057.8,145.8 1057.5,147.5 1058.0,149.5 1057.8,150.0 1058.3,149.9 1058.1,151.8 1058.3,152.7 1058.6,153.5 1058.7,154.6 1058.6,156.2 1058.8,157.2 1059.4,158.1 1059.1,159.5 1059.2,160.7 1059.1,161.5 1059.4,162.0 1060.1,163.0 1060.2,164.7 1060.3,165.1 1060.3,165.1 1060.1,163.4 1060.8,162.6 1060.3,161.2 1060.6,160.6 1060.6,160.2 1060.6,158.7 1061.1,157.1 1061.1,157.3 1060.7,155.1 1060.9,153.7 1061.3,152.7 1061.4,153.1 1061.1,151.3 1061.1,150.7 1061.5,149.3 1061.8,148.6 1061.8,147.4 1061.8,146.4 1061.8,145.3 1061.7,144.1 1062.7,143.3 1062.4,142.4 1063.0,140.7 1063.5,140.7 1064.2,139.4 1064.1,140.1 1064.8,141.8 1064.5,142.0 1064.6,145.1 1064.9,145.1 1065.4,146.3 1065.3,146.8 1065.3,149.2 1065.4,149.9 1065.3,150.5 1065.8,152.1 1065.6,152.9 1066.1,153.4 1066.2,154.4 1066.0,155.9 1065.7,156.9 1066.1,157.4 1066.4,159.4 1066.5,160.6 1066.4,160.6 1067.0,162.4 1066.9,162.9 1067.0,164.4 1067.0,165.4 1067.2,166.1 1066.8,166.9 1067.3,168.2 1066.9,169.2 1067.1,170.1 1067.2,171.4 1067.2,172.3 1067.4,173.6 1067.5,174.9 1067.6,175.0 1067.5,176.6 1067.9,177.3 1067.6,178.9 1067.8,180.5 1067.8,181.6 1067.7,181.5 1068.4,183.5 1068.3,184.4 1068.4,184.9 1068.5,186.3 1068.6,187.6 1068.1,188.1 1068.8,189.6 1068.6,190.8 1068.8,191.6 1069.1,193.1 1069.6,194.2 1069.9,196.1 1070.1,196.9 1069.9,197.7 1070.2,198.4 1070.5,199.5 1071.2,201.0 1071.0,201.1 1071.4,202.8 1071.4,203.5 1071.3,205.2 1071.9,207.1 1072.1,207.0 1072.6,208.1 1072.5,208.9 1072.5,210.7 1073.0,211.8 1072.9,212.2 1073.0,213.6 1073.2,214.4 1074.0,215.8 1073.8,216.7 1074.1,216.9 1074.2,218.8 1075.0,219.0 1074.7,220.2 1075.5,221.8 1075.1,221.6 1075.2,223.9 1075.9,224.3 1075.5,225.2 1075.5,226.8 1075.8,227.9 1075.8,227.9 1076.4,229.2 1076.7,230.5 1076.5,231.8 1077.1,231.8 1077.4,233.8 1077.4,233.8 1077.2,235.5 1077.8,236.0 1077.5,236.8 1077.8,238.8 1077.7,239.4 1078.3,241.3 1078.5,241.5 1078.2,242.2 1078.5,243.7 1078.8,245.3 1079.0,243.1 1079.4,242.9 1079.3,241.2 1079.0,240.0 1079.7,239.0 1079.4,238.4 1079.9,237.5 1080.1,236.8 1080.0,235.6 1080.1,234.4 1080.5,233.2 1080.8,232.0 1081.0,231.4 1080.9,229.7 1080.8,228.6 1081.0,227.8 1081.8,227.0 1081.5,225.3 1081.3,224.5 1081.6,223.1 1082.0,222.3 1082.0,220.5 1081.9,220.5 1082.1,219.6 1082.2,218.3 1081.9,217.0 1081.9,216.5 1082.6,215.1 1082.5,213.9 1083.1,213.9 1082.9,212.7 1082.7,210.3 1083.0,209.7 1083.1,209.2 1084.0,207.8 1083.5,207.2 1083.6,206.4 1084.1,204.5 1083.9,203.9 1084.1,202.3 1083.8,201.0 1084.4,201.1 1084.5,199.0 1084.5,198.7 1084.5,197.6 1085.1,197.2 1085.1,196.2 1085.1,195.0 1085.4,194.2 1085.5,193.0 1085.6,193.7 1086.2,195.2 1086.0,197.0 1086.3,196.3 1086.3,198.3 1086.6,199.5 1086.5,199.5 1086.3,201.1 1086.7,201.5 1086.7,202.8 1086.8,204.1 1086.8,204.5 1087.2,206.7 1087.0,207.5 1087.2,208.3 1087.2,208.8 1087.3,210.5 1087.1,212.0 1087.8,212.9 1087.8,213.5 1087.4,213.9 1087.4,215.3 1087.6,216.5 1087.3,218.2 1088.2,218.3 1088.0,219.5 1088.0,220.2 1087.9,221.0 1088.1,222.3 1088.2,223.0 1088.3,224.3 1088.5,224.9 1088.6,226.7 1088.7,227.1 1088.6,228.2 1089.0,229.9 1088.9,230.0 1089.1,231.4 1089.0,230.0 1089.3,229.6 1089.2,227.9 1089.8,226.8 1089.8,226.5 1089.9,224.9 1090.1,224.2 1090.3,223.0 1090.6,221.6 1090.5,221.3 1091.2,219.9 1091.4,218.8 1091.9,218.6 1092.0,216.9 1092.9,217.5 1094.3,217.5 1094.1,216.7 1094.9,216.0 1095.0,213.8 1095.0,214.2 1095.1,213.1 1096.1,211.9 1096.2,210.5 1096.0,209.4 1096.6,208.3 1097.2,207.1 1097.5,206.2 1098.1,207.8 1098.8,208.1 1099.2,208.8 1099.9,208.2 1099.8,206.9 1100.3,205.9 1100.9,204.7 1101.1,204.2 1101.1,203.2 1101.7,202.4 1102.0,203.4 1102.1,203.9 1103.0,205.9 1103.2,206.2 1103.8,206.7 1104.6,208.6 1106.0,208.7 1105.9,208.8 1106.7,206.9 1107.1,206.7 1106.9,205.9 1108.0,203.6 1108.4,204.9 1108.9,207.0 1109.5,207.7 1109.4,209.5 1109.5,207.8 1109.7,207.0 1109.8,206.2 1110.3,205.0 1110.8,203.8 1110.9,202.7 1111.0,201.1 1111.1,200.8 1111.1,199.6 1111.9,198.8 1112.3,198.1 1113.0,197.1 1113.3,196.2 1114.0,195.1 1114.1,194.7 1114.8,193.4 1115.1,193.9 1115.1,195.5 1115.3,195.9 1115.8,197.1 1116.0,198.3 1116.3,199.2 1116.8,200.2 1117.2,200.3 1117.2,201.5 1118.1,203.3 1118.2,203.7 1118.7,204.2 1120.0,205.2 1121.2,205.8 1122.1,204.9 1123.7,203.8 1124.3,202.7 1124.8,202.0 1125.6,202.6 1126.1,203.3 1126.6,203.9 1127.1,204.6 1127.5,206.2 1127.5,207.2 1128.4,208.1 1129.1,208.7 1129.4,210.2 1130.4,210.0 1131.6,208.5 1132.3,207.6 1132.4,206.4 1132.7,205.5 1133.0,204.4 1133.3,203.9 1133.4,202.9 1133.7,201.4 1133.3,201.0 1133.9,199.8 1134.4,198.2 1134.4,197.8 1134.5,197.2 1134.9,195.7 1135.0,197.4 1135.3,198.3 1135.7,198.2 1135.6,200.0 1136.1,201.3 1136.4,202.4 1136.4,202.9 1137.2,203.7 1137.9,204.2 1138.3,205.8 1138.4,207.2 1140.0,206.0 1140.9,205.1 1142.5,204.1 1142.6,203.4 1143.4,202.7 1143.9,201.4 1144.1,201.3 1144.3,200.7 1145.1,198.6 1145.9,198.5 1146.1,197.7 1146.5,196.1 1148.0,197.0 1148.3,198.0 1149.7,198.4 1149.5,199.1 1150.4,200.5 1151.1,201.0 1151.0,202.0 1151.7,202.6 1152.0,202.8 1152.2,204.7 1152.3,206.3 1152.3,207.0 1152.8,208.3 1152.8,208.7 1153.4,209.4 1154.5,207.5 1155.0,207.2 1155.6,208.4 1156.3,208.7 1156.6,209.2 1156.8,210.4 1156.9,211.7 1157.5,213.4 1157.1,213.6 1158.0,214.8 1158.6,216.3 1158.8,217.0 1159.2,218.4 1159.1,219.2 1159.6,219.8 1160.3,221.4 1160.7,222.0 1161.0,223.0 1161.5,224.7 1162.3,226.0 1162.2,226.3 1162.6,227.7 1163.7,229.0 1163.3,229.2 1164.2,231.0 1165.3,231.9 1166.4,232.5 1167.0,233.3 1168.4,231.7 1168.5,230.5 1169.0,230.2 1170.0,229.6 1170.6,227.9 1171.5,228.3 1172.3,226.8 1173.7,226.2 1174.4,225.2 1175.4,224.0 1175.9,223.1 1176.5,222.2 1177.4,221.4 1178.4,221.0 1178.7,219.8 1179.5,219.0 1180.1,217.9 1180.6,216.5 1181.5,216.5 1182.0,215.3 1182.5,214.0 1182.6,213.6 1183.6,212.2 1183.9,212.1 1184.2,211.5 1185.3,210.8 1186.2,209.1 1187.3,208.4 1188.2,207.2 1189.2,206.5 1189.6,206.3 1190.4,205.1 1191.4,204.3 1191.8,203.7 1192.8,203.7 1193.6,202.6 1194.7,201.3 1195.8,200.8 1196.8,200.6 1197.3,199.7 1198.4,198.7 1198.8,198.0 1199.9,197.4 1200.9,197.1 1201.2,198.3 1201.0,199.3 1201.3,199.5 1201.4,200.4 1201.2,202.2 1201.5,203.1 1201.1,203.6 1201.0,205.3 1201.2,205.7 1201.4,206.7 1201.3,207.9 1201.8,209.7 1201.4,209.4 1201.6,211.2 1201.6,212.4 1201.5,213.6 1201.7,214.3 1201.4,215.0 1201.7,215.7 1201.5,216.9 1201.2,218.5 1201.5,219.3 1201.7,219.6 1201.5,221.4 1201.7,221.8 1201.7,223.4 1201.8,224.8 1201.6,226.2 1201.5,226.2 1201.5,227.0 1201.5,227.6 1201.5,229.6 1201.7,230.3 1201.8,231.1 1201.5,231.6 1201.4,233.1 1201.8,234.7 1201.3,235.7 1201.6,236.4 1201.5,237.4 1201.4,237.8 1201.5,240.1 1201.8,240.4 1201.4,241.5 1201.7,242.7 1201.4,243.7 1201.5,244.8" fill="none" stroke="#0000ff" stroke-width="4.6" stroke-linejoin="round" stroke-linecap="round"/>
<line x1="1202.9" y1="244.8" x2="1321.5" y2="244.8" stroke="#0000ff" stroke-width="4.3"/>
<clipPath id="cp2"><rect x="1206.9" y="108" width="114.6" height="310.5"/></clipPath>
<line x1="868.5" y1="244.6" x2="1321.5" y2="244.6" stroke="#000010" stroke-width="1.4" stroke-dasharray="20.3 13" clip-path="url(#cp2)"/>
<line x1="869" y1="108.9" x2="1321" y2="108.9" stroke="#00ff00" stroke-width="3"/>
<line x1="869" y1="380.8" x2="1321" y2="380.8" stroke="#00ff00" stroke-width="3"/>
<line x1="1204.9" y1="108" x2="1204.9" y2="418.5" stroke="#00ffff" stroke-width="2.9"/>
<line x1="868.5" y1="108" x2="868.5" y2="419" stroke="#0000ff" stroke-width="1"/>
<line x1="1321.5" y1="108" x2="1321.5" y2="419" stroke="#262626" stroke-width="1"/>
<line x1="868" y1="418.5" x2="1322" y2="418.5" stroke="#262626" stroke-width="1"/>
<text x="868.4" y="447.9" font-size="20.83" fill="#262626" text-anchor="middle">0</text>
<line x1="925.5" y1="418" x2="925.5" y2="414" stroke="#262626" stroke-width="1"/>
<text x="925.03" y="447.9" font-size="20.83" fill="#262626" text-anchor="middle">3</text>
<line x1="981.5" y1="418" x2="981.5" y2="414" stroke="#262626" stroke-width="1"/>
<text x="981.65" y="447.9" font-size="20.83" fill="#262626" text-anchor="middle">6</text>
<line x1="1038.5" y1="418" x2="1038.5" y2="414" stroke="#262626" stroke-width="1"/>
<text x="1038.28" y="447.9" font-size="20.83" fill="#262626" text-anchor="middle">9</text>
<line x1="1095.5" y1="418" x2="1095.5" y2="414" stroke="#262626" stroke-width="1"/>
<text x="1094.9" y="447.9" font-size="20.83" fill="#262626" text-anchor="middle">12</text>
<line x1="1151.5" y1="418" x2="1151.5" y2="414" stroke="#262626" stroke-width="1"/>
<text x="1151.53" y="447.9" font-size="20.83" fill="#262626" text-anchor="middle">15</text>
<line x1="1208.5" y1="418" x2="1208.5" y2="414" stroke="#262626" stroke-width="1"/>
<text x="1208.15" y="447.9" font-size="20.83" fill="#262626" text-anchor="middle">18</text>
<line x1="1265.5" y1="418" x2="1265.5" y2="414" stroke="#262626" stroke-width="1"/>
<text x="1264.78" y="447.9" font-size="20.83" fill="#262626" text-anchor="middle">21</text>
<text x="1321.4" y="447.9" font-size="20.83" fill="#262626" text-anchor="middle">24</text>
<text x="1094.2" y="479" font-size="22.9" fill="#262626" text-anchor="middle">UT Time /h</text>
<line x1="869" y1="108.5" x2="873.5" y2="108.5" stroke="#0000ff" stroke-width="1"/>
<text x="858.3" y="116.3" font-size="20.83" fill="#0000ff" text-anchor="end">30</text>
<line x1="869" y1="154.5" x2="873.5" y2="154.5" stroke="#0000ff" stroke-width="1"/>
<text x="858.3" y="161.8" font-size="20.83" fill="#0000ff" text-anchor="end">20</text>
<line x1="869" y1="199.5" x2="873.5" y2="199.5" stroke="#0000ff" stroke-width="1"/>
<text x="858.3" y="207.1" font-size="20.83" fill="#0000ff" text-anchor="end">10</text>
<line x1="869" y1="244.5" x2="873.5" y2="244.5" stroke="#0000ff" stroke-width="1"/>
<text x="858.3" y="252.4" font-size="20.83" fill="#0000ff" text-anchor="end">0</text>
<line x1="869" y1="289.5" x2="873.5" y2="289.5" stroke="#0000ff" stroke-width="1"/>
<text x="858.3" y="297.7" font-size="20.83" fill="#0000ff" text-anchor="end">-10</text>
<line x1="869" y1="335.5" x2="873.5" y2="335.5" stroke="#0000ff" stroke-width="1"/>
<text x="858.3" y="343.1" font-size="20.83" fill="#0000ff" text-anchor="end">-20</text>
<line x1="869" y1="380.5" x2="873.5" y2="380.5" stroke="#0000ff" stroke-width="1"/>
<text x="858.3" y="388.4" font-size="20.83" fill="#0000ff" text-anchor="end">-30</text>
<line x1="1321" y1="108.5" x2="1316.5" y2="108.5" stroke="#262626" stroke-width="1"/>
<text x="1330.5" y="116.3" font-size="20.83" fill="#262626">3</text>
<line x1="1321" y1="154.5" x2="1316.5" y2="154.5" stroke="#262626" stroke-width="1"/>
<text x="1330.5" y="161.8" font-size="20.83" fill="#262626">2</text>
<line x1="1321" y1="199.5" x2="1316.5" y2="199.5" stroke="#262626" stroke-width="1"/>
<text x="1330.5" y="207.1" font-size="20.83" fill="#262626">1</text>
<line x1="1321" y1="244.5" x2="1316.5" y2="244.5" stroke="#262626" stroke-width="1"/>
<text x="1330.5" y="252.4" font-size="20.83" fill="#262626">0</text>
<line x1="1321" y1="289.5" x2="1316.5" y2="289.5" stroke="#262626" stroke-width="1"/>
<text x="1330.5" y="297.7" font-size="20.83" fill="#262626">-1</text>
<line x1="1321" y1="335.5" x2="1316.5" y2="335.5" stroke="#262626" stroke-width="1"/>
<text x="1330.5" y="343.1" font-size="20.83" fill="#262626">-2</text>
<line x1="1321" y1="380.5" x2="1316.5" y2="380.5" stroke="#262626" stroke-width="1"/>
<text x="1330.5" y="388.4" font-size="20.83" fill="#262626">-3</text>
<text x="815.1" y="265" font-size="16.67" fill="#0000ff" text-anchor="middle" transform="rotate(-90 815.1 265)">X Mean Magnetic Field / nT</text>
<text x="1373.1" y="265" font-size="16.67" fill="#000000" text-anchor="middle" transform="rotate(-90 1373.1 265)">Rate of Change / nT/min</text>
<rect x="1198.9" y="104.2" width="110.2" height="39.1" fill="#ffffff" stroke="#00ffff" stroke-width="1.05"/>
<text x="1205.3" y="130.8" font-size="20.83" fill="#000000">time now</text>
<rect x="1466" y="108" width="110.9" height="310" fill="#e6e6e6"/>
<rect x="1465" y="108" width="1" height="310" fill="#f6f6e6"/>
<rect x="1821.55" y="108" width="91.45" height="310" fill="#e6e6e6"/>
<text x="1697.6" y="62.2" font-size="25.1" fill="#000000" text-anchor="middle">Dunedin</text>
<text x="1465.9" y="99.9" font-size="12.53" fill="#000000">File Updated:10-Oct-2025 17:49:01 UTC</text>
<text x="1908.5" y="107" font-size="14.58" fill="#000000" text-anchor="end">minute resolution</text>
<polyline points="1465.0,251.5 1465.3,230.6 1465.6,250.7 1465.9,271.9 1466.3,248.0 1466.6,265.8 1466.9,244.0 1467.2,260.0 1467.5,255.3 1467.8,243.5 1468.1,224.4 1468.5,234.8 1468.8,241.8 1469.1,263.6 1469.4,238.9 1469.7,241.9 1470.0,218.6 1470.3,234.5 1470.7,235.0 1471.0,250.5 1471.3,246.9 1471.6,242.8 1471.9,242.2 1472.2,251.9 1472.5,263.8 1472.9,263.6 1473.2,252.1 1473.5,263.3 1473.8,263.1 1474.1,264.0 1474.4,255.2 1474.7,255.8 1475.0,259.6 1475.4,249.8 1475.7,237.6 1476.0,233.3 1476.3,240.8 1476.6,276.0 1476.9,232.3 1477.2,242.1 1477.6,238.3 1477.9,234.5 1478.2,229.9 1478.5,223.7 1478.8,235.3 1479.1,231.7 1479.4,254.6 1479.8,241.9 1480.1,237.3 1480.4,228.6 1480.7,214.2 1481.0,240.2 1481.3,245.6 1481.6,233.2 1482.0,257.6 1482.3,250.1 1482.6,259.2 1482.9,234.8 1483.2,225.6 1483.5,220.9 1483.8,236.0 1484.2,223.7 1484.5,289.5 1484.8,216.4 1485.1,210.0 1485.4,205.3 1485.7,211.3 1486.0,229.3 1486.4,224.2 1486.7,225.5 1487.0,238.6 1487.3,244.4 1487.6,244.6 1487.9,253.5 1488.2,260.2 1488.6,257.1 1488.9,269.4 1489.2,257.4 1489.5,255.7 1489.8,236.0 1490.1,247.2 1490.4,234.8 1490.7,235.9 1491.1,227.2 1491.4,239.4 1491.7,240.4 1492.0,281.4 1492.3,231.0 1492.6,220.7 1492.9,248.5 1493.3,227.1 1493.6,201.6 1493.9,240.3 1494.2,235.5 1494.5,230.0 1494.8,229.3 1495.1,218.8 1495.5,223.0 1495.8,229.7 1496.1,236.8 1496.4,241.5 1496.7,215.4 1497.0,256.1 1497.3,254.3 1497.7,257.4 1498.0,195.0 1498.3,242.9 1498.6,249.4 1498.9,280.0 1499.2,245.0 1499.5,252.1 1499.9,253.7 1500.2,244.8 1500.5,245.1 1500.8,242.7 1501.1,246.8 1501.4,238.2 1501.7,217.5 1502.1,223.1 1502.4,237.1 1502.7,234.4 1503.0,230.9 1503.3,238.2 1503.6,239.4 1503.9,252.5 1504.3,239.3 1504.6,246.8 1504.9,236.0 1505.2,262.2 1505.5,253.5 1505.8,255.5 1506.1,266.6 1506.4,264.3 1506.8,253.0 1507.1,260.7 1507.4,264.3 1507.7,267.3 1508.0,270.9 1508.3,266.6 1508.6,262.2 1509.0,249.6 1509.3,262.6 1509.6,244.4 1509.9,250.0 1510.2,232.4 1510.5,318.6 1510.8,232.8 1511.2,215.0 1511.5,221.3 1511.8,237.7 1512.1,198.0 1512.4,223.9 1512.7,229.2 1513.0,211.4 1513.4,224.9 1513.7,215.1 1514.0,292.5 1514.3,232.5 1514.6,237.0 1514.9,245.7 1515.2,237.0 1515.6,246.7 1515.9,252.5 1516.2,239.4 1516.5,262.6 1516.8,244.6 1517.1,263.5 1517.4,249.6 1517.8,275.0 1518.1,269.1 1518.4,250.3 1518.7,245.3 1519.0,234.6 1519.3,235.0 1519.6,232.5 1520.0,240.5 1520.3,252.6 1520.6,233.4 1520.9,255.5 1521.2,261.8 1521.5,254.8 1521.8,278.4 1522.1,245.2 1522.5,250.7 1522.8,242.6 1523.1,243.4 1523.4,249.4 1523.7,247.7 1524.0,251.2 1524.3,236.0 1524.7,235.5 1525.0,234.0 1525.3,244.1 1525.6,249.5 1525.9,244.0 1526.2,240.6 1526.5,250.1 1526.9,203.3 1527.2,239.1 1527.5,236.4 1527.8,228.2 1528.1,219.0 1528.4,228.4 1528.7,225.4 1529.1,207.3 1529.4,232.8 1529.7,242.0 1530.0,251.3 1530.3,250.4 1530.6,261.1 1530.9,252.7 1531.3,248.5 1531.6,252.4 1531.9,242.3 1532.2,227.3 1532.5,224.3 1532.8,240.2 1533.1,224.0 1533.5,224.5 1533.8,218.0 1534.1,228.1 1534.4,213.3 1534.7,210.3 1535.0,224.8 1535.3,236.9 1535.7,235.4 1536.0,230.4 1536.3,234.9 1536.6,247.6 1536.9,178.1 1537.2,234.3 1537.5,240.1 1537.8,241.1 1538.2,195.5 1538.5,250.8 1538.8,223.1 1539.1,227.3 1539.4,233.2 1539.7,216.6 1540.0,229.7 1540.4,229.5 1540.7,235.8 1541.0,223.9 1541.3,227.4 1541.6,229.8 1541.9,235.6 1542.2,237.4 1542.6,192.0 1542.9,242.4 1543.2,257.1 1543.5,270.0 1543.8,249.4 1544.1,255.9 1544.4,234.4 1544.8,233.5 1545.1,226.8 1545.4,214.8 1545.7,217.7 1546.0,225.6 1546.3,237.2 1546.6,244.9 1547.0,234.6 1547.3,245.0 1547.6,237.1 1547.9,233.6 1548.2,233.9 1548.5,234.0 1548.8,234.3 1549.2,236.5 1549.5,297.0 1549.8,196.8 1550.1,240.7 1550.4,233.3 1550.7,227.5 1551.0,246.1 1551.4,245.5 1551.7,251.7 1552.0,243.9 1552.3,258.2 1552.6,235.3 1552.9,250.8 1553.2,241.5 1553.5,241.2 1553.9,253.7 1554.2,253.9 1554.5,262.4 1554.8,261.3 1555.1,268.7 1555.4,249.3 1555.7,241.6 1556.1,241.8 1556.4,234.9 1556.7,231.1 1557.0,254.3 1557.3,246.4 1557.6,246.8 1557.9,247.6 1558.3,249.4 1558.6,252.4 1558.9,250.9 1559.2,265.0 1559.5,265.4 1559.8,277.5 1560.1,262.5 1560.5,243.8 1560.8,275.2 1561.1,228.9 1561.4,231.9 1561.7,242.0 1562.0,250.4 1562.3,260.6 1562.7,233.5 1563.0,232.8 1563.3,249.7 1563.6,259.2 1563.9,256.4 1564.2,260.1 1564.5,260.0 1564.9,273.7 1565.2,272.2 1565.5,285.5 1565.8,254.4 1566.1,251.0 1566.4,246.7 1566.7,251.2 1567.1,249.0 1567.4,244.1 1567.7,232.4 1568.0,244.8 1568.3,247.2 1568.6,242.8 1568.9,231.5 1569.2,225.8 1569.6,219.0 1569.9,212.7 1570.2,226.3 1570.5,226.4 1570.8,223.5 1571.1,223.4 1571.4,231.8 1571.8,228.4 1572.1,212.6 1572.4,215.4 1572.7,218.6 1573.0,220.9 1573.3,230.1 1573.6,224.2 1574.0,236.7 1574.3,230.2 1574.6,236.8 1574.9,205.0 1575.2,264.2 1575.5,224.7 1575.8,237.4 1576.2,256.0 1576.5,238.3 1576.8,250.1 1577.1,243.2 1577.4,253.5 1577.7,256.2 1578.0,246.0 1578.4,241.5 1578.7,238.0 1579.0,224.5 1579.3,247.9 1579.6,249.3 1579.9,250.8 1580.2,253.6 1580.6,246.1 1580.9,238.1 1581.2,246.3 1581.5,234.9 1581.8,227.4 1582.1,241.6 1582.4,222.4 1582.8,215.7 1583.1,225.5 1583.4,228.1 1583.7,228.2 1584.0,234.1 1584.3,235.1 1584.6,242.4 1584.9,239.3 1585.3,245.6 1585.6,246.9 1585.9,243.3 1586.2,236.4 1586.5,229.8 1586.8,229.5 1587.1,231.4 1587.5,330.6 1587.8,218.2 1588.1,224.4 1588.4,205.0 1588.7,233.9 1589.0,231.9 1589.3,235.5 1589.7,239.8 1590.0,229.4 1590.3,225.5 1590.6,223.9 1590.9,222.4 1591.2,234.0 1591.5,253.1 1591.9,253.2 1592.2,245.2 1592.5,243.5 1592.8,237.1 1593.1,232.7 1593.4,243.7 1593.7,236.2 1594.1,242.5 1594.4,236.6 1594.7,220.2 1595.0,218.7 1595.3,226.3 1595.6,245.1 1595.9,233.6 1596.3,243.4 1596.6,242.6 1596.9,232.3 1597.2,255.4 1597.5,256.8 1597.8,253.3 1598.1,237.5 1598.5,241.5 1598.8,223.9 1599.1,223.7 1599.4,221.3 1599.7,238.6 1600.0,225.7 1600.3,232.1 1600.6,250.5 1601.0,249.6 1601.3,259.9 1601.6,255.3 1601.9,245.3 1602.2,263.7 1602.5,256.6 1602.8,250.1 1603.2,263.0 1603.5,260.4 1603.8,253.9 1604.1,249.3 1604.4,265.1 1604.7,252.9 1605.0,258.9 1605.4,250.1 1605.7,252.8 1606.0,239.6 1606.3,271.3 1606.6,237.3 1606.9,242.0 1607.2,252.7 1607.6,242.2 1607.9,239.3 1608.2,242.7 1608.5,248.0 1608.8,235.0 1609.1,252.1 1609.4,222.5 1609.8,277.5 1610.1,243.6 1610.4,239.6 1610.7,260.2 1611.0,254.1 1611.3,245.7 1611.6,242.2 1612.0,232.5 1612.3,242.1 1612.6,245.5 1612.9,239.3 1613.2,239.6 1613.5,235.6 1613.8,246.3 1614.2,224.5 1614.5,247.6 1614.8,251.1 1615.1,247.0 1615.4,253.2 1615.7,247.2 1616.0,250.4 1616.3,243.0 1616.7,197.0 1617.0,258.1 1617.3,245.8 1617.6,285.0 1617.9,239.3 1618.2,223.9 1618.5,250.4 1618.9,217.2 1619.2,224.4 1619.5,216.2 1619.8,225.2 1620.1,243.2 1620.4,237.5 1620.7,269.0 1621.1,238.2 1621.4,247.8 1621.7,258.7 1622.0,245.6 1622.3,257.8 1622.6,247.2 1622.9,238.4 1623.3,249.0 1623.6,254.9 1623.9,255.0 1624.2,270.3 1624.5,264.7 1624.8,267.5 1625.1,270.8 1625.5,261.5 1625.8,250.4 1626.1,299.7 1626.4,267.8 1626.7,264.3 1627.0,257.0 1627.3,245.8 1627.7,248.3 1628.0,245.9 1628.3,236.4 1628.6,274.0 1628.9,227.7 1629.2,224.4 1629.5,249.1 1629.9,237.6 1630.2,226.5 1630.5,232.5 1630.8,244.5 1631.1,234.8 1631.4,243.3 1631.7,239.8 1632.0,244.9 1632.4,226.3 1632.7,239.5 1633.0,232.1 1633.3,243.6 1633.6,253.8 1633.9,254.0 1634.2,247.6 1634.6,235.5 1634.9,216.0 1635.2,224.0 1635.5,220.3 1635.8,239.5 1636.1,231.5 1636.4,236.5 1636.8,231.5 1637.1,236.2 1637.4,277.9 1637.7,259.3 1638.0,252.6 1638.3,241.6 1638.6,230.5 1639.0,257.6 1639.3,246.3 1639.6,250.1 1639.9,258.3 1640.2,264.5 1640.5,260.6 1640.8,271.5 1641.2,263.8 1641.5,260.6 1641.8,272.9 1642.1,273.5 1642.4,259.1 1642.7,253.5 1643.0,264.1 1643.4,193.8 1643.7,249.7 1644.0,257.4 1644.3,280.0 1644.6,252.4 1644.9,242.5 1645.2,235.6 1645.6,244.4 1645.9,264.3 1646.2,255.4 1646.5,249.0 1646.8,244.7 1647.1,260.4 1647.4,258.1 1647.7,216.2 1648.1,253.0 1648.4,243.2 1648.7,241.3 1649.0,254.7 1649.3,264.7 1649.6,266.1 1649.9,266.6 1650.3,267.7 1650.6,268.4 1650.9,264.6 1651.2,247.6 1651.5,260.7 1651.8,245.8 1652.1,228.4 1652.5,248.9 1652.8,253.2 1653.1,290.0 1653.4,242.0 1653.7,238.6 1654.0,223.6 1654.3,220.1 1654.7,210.3 1655.0,213.4 1655.3,229.8 1655.6,217.5 1655.9,216.8 1656.2,225.1 1656.5,221.3 1656.9,194.0 1657.2,233.5 1657.5,235.5 1657.8,219.5 1658.1,224.6 1658.4,219.3 1658.7,225.3 1659.1,233.3 1659.4,205.9 1659.7,225.7 1660.0,240.6 1660.3,243.5 1660.6,249.7 1660.9,249.6 1661.3,246.8 1661.6,241.9 1661.9,228.6 1662.2,244.9 1662.5,293.0 1662.8,255.0 1663.1,247.0 1663.4,247.9 1663.8,243.3 1664.1,238.3 1664.4,246.8 1664.7,268.1 1665.0,268.3 1665.3,260.1 1665.6,259.4 1666.0,238.0 1666.3,224.7 1666.6,248.2 1666.9,275.0 1667.2,265.5 1667.5,248.5 1667.8,261.7 1668.2,260.4 1668.5,255.5 1668.8,253.0 1669.1,254.2 1669.4,257.5 1669.7,264.4 1670.0,257.9 1670.4,268.3 1670.7,275.6 1671.0,250.5 1671.3,260.3 1671.6,266.5 1671.9,252.2 1672.2,246.9 1672.6,243.0 1672.9,236.2 1673.2,244.3 1673.5,264.1 1673.8,254.9 1674.1,285.0 1674.4,248.7 1674.8,225.9 1675.1,230.4 1675.4,221.4 1675.7,252.8 1676.0,251.2 1676.3,257.3 1676.6,245.2 1677.0,246.6 1677.3,248.2 1677.6,246.8 1677.9,231.6 1678.2,228.1 1678.5,228.3 1678.8,222.4 1679.1,223.5 1679.5,219.8 1679.8,218.2 1680.1,232.9 1680.4,229.7 1680.7,223.3 1681.0,227.3 1681.3,234.2 1681.7,237.8 1682.0,235.5 1682.3,330.6 1682.6,254.4 1682.9,256.9 1683.2,200.0 1683.5,253.5 1683.9,250.3 1684.2,250.8 1684.5,251.0 1684.8,251.3 1685.1,251.6 1685.4,270.8 1685.7,262.4 1686.1,257.7 1686.4,248.1 1686.7,250.6 1687.0,249.5 1687.3,253.7 1687.6,239.5 1687.9,267.3 1688.3,259.9 1688.6,244.5 1688.9,245.9 1689.2,246.0 1689.5,247.6 1689.8,245.0 1690.1,248.3 1690.5,264.5 1690.8,249.4 1691.1,262.3 1691.4,270.8 1691.7,253.7 1692.0,259.2 1692.3,251.7 1692.7,260.0 1693.0,262.4 1693.3,251.3 1693.6,255.6 1693.9,241.5 1694.2,253.7 1694.5,238.8 1694.8,238.3 1695.2,259.8 1695.5,239.0 1695.8,239.0 1696.1,232.0 1696.4,243.2 1696.7,245.0 1697.0,239.9 1697.4,246.2 1697.7,245.4 1698.0,258.2 1698.3,263.8 1698.6,261.7 1698.9,264.1 1699.2,250.7 1699.6,246.7 1699.9,243.5 1700.2,266.1 1700.5,266.3 1700.8,241.9 1701.1,246.4 1701.4,244.2 1701.8,257.4 1702.1,243.2 1702.4,247.7 1702.7,241.2 1703.0,234.5 1703.3,242.1 1703.6,235.7 1704.0,236.5 1704.3,261.7 1704.6,250.4 1704.9,270.8 1705.2,245.5 1705.5,248.7 1705.8,249.3 1706.2,249.9 1706.5,258.7 1706.8,244.0 1707.1,252.5 1707.4,242.3 1707.7,243.1 1708.0,244.2 1708.4,261.6 1708.7,255.4 1709.0,245.2 1709.3,243.8 1709.6,239.9 1709.9,249.5 1710.2,252.7 1710.5,256.9 1710.9,243.3 1711.2,225.4 1711.5,235.1 1711.8,238.2 1712.1,232.1 1712.4,228.9 1712.7,254.7 1713.1,256.2 1713.4,256.8 1713.7,244.1 1714.0,258.5 1714.3,253.5 1714.6,265.6 1714.9,251.0 1715.3,252.4 1715.6,253.5 1715.9,243.3 1716.2,285.4 1716.5,255.9 1716.8,234.5 1717.1,238.4 1717.5,239.0 1717.8,239.5 1718.1,241.5 1718.4,241.4 1718.7,236.9 1719.0,230.8 1719.3,230.9 1719.7,243.5 1720.0,250.1 1720.3,246.5 1720.6,238.9 1720.9,238.1 1721.2,241.4 1721.5,234.8 1721.9,231.1 1722.2,233.7 1722.5,257.1 1722.8,255.0 1723.1,246.9 1723.4,247.8 1723.7,261.1 1724.1,259.3 1724.4,247.9 1724.7,244.5 1725.0,247.1 1725.3,242.9 1725.6,244.8 1725.9,247.3 1726.2,242.2 1726.6,239.1 1726.9,236.9 1727.2,224.8 1727.5,227.0 1727.8,232.9 1728.1,246.0 1728.4,229.4 1728.8,235.8 1729.1,270.2 1729.4,238.1 1729.7,233.6 1730.0,235.1 1730.3,231.8 1730.6,239.1 1731.0,244.8 1731.3,255.6 1731.6,237.7 1731.9,233.5 1732.2,242.9 1732.5,235.0 1732.8,234.1 1733.2,242.5 1733.5,244.5 1733.8,243.1 1734.1,246.1 1734.4,248.2 1734.7,239.8 1735.0,237.6 1735.4,234.3 1735.7,243.5 1736.0,243.2 1736.3,243.1 1736.6,241.2 1736.9,235.8 1737.2,238.1 1737.6,237.5 1737.9,234.7 1738.2,245.6 1738.5,245.9 1738.8,241.2 1739.1,235.8 1739.4,238.6 1739.8,249.0 1740.1,255.7 1740.4,251.3 1740.7,251.5 1741.0,255.5 1741.3,248.2 1741.6,240.0 1741.9,247.1 1742.3,254.5 1742.6,253.5 1742.9,243.1 1743.2,234.1 1743.5,235.8 1743.8,235.1 1744.1,234.3 1744.5,232.4 1744.8,240.1 1745.1,232.5 1745.4,242.5 1745.7,229.2 1746.0,247.5 1746.3,238.0 1746.7,242.3 1747.0,243.2 1747.3,235.5 1747.6,242.4 1747.9,237.1 1748.2,242.2 1748.5,235.7 1748.9,248.9 1749.2,247.4 1749.5,245.5 1749.8,269.6 1750.1,262.2 1750.4,246.0 1750.7,252.4 1751.1,249.3 1751.4,242.3 1751.7,237.8 1752.0,226.4 1752.3,229.9 1752.6,230.1 1752.9,222.3 1753.3,228.4 1753.6,225.9 1753.9,239.4 1754.2,246.1 1754.5,249.4 1754.8,237.4 1755.1,247.3 1755.5,243.8 1755.8,243.0 1756.1,236.3 1756.4,235.1 1756.7,240.7 1757.0,236.8 1757.3,221.6 1757.6,231.7 1758.0,236.5 1758.3,231.8 1758.6,238.7 1758.9,236.4 1759.2,234.5 1759.5,248.6 1759.8,257.1 1760.2,240.1 1760.5,246.8 1760.8,240.2 1761.1,241.2 1761.4,238.5 1761.7,238.3 1762.0,236.9 1762.4,255.1 1762.7,241.8 1763.0,246.3 1763.3,249.0 1763.6,248.7 1763.9,232.6 1764.2,238.0 1764.6,247.7 1764.9,232.8 1765.2,248.6 1765.5,226.4 1765.8,208.9 1766.1,241.0 1766.4,243.4 1766.8,239.3 1767.1,247.1 1767.4,237.8 1767.7,239.8 1768.0,235.8 1768.3,234.4 1768.6,230.1 1769.0,236.1 1769.3,237.9 1769.6,249.2 1769.9,245.0 1770.2,240.6 1770.5,224.0 1770.8,233.3 1771.2,233.2 1771.5,243.5 1771.8,230.5 1772.1,225.6 1772.4,243.7 1772.7,234.6 1773.0,226.5 1773.3,226.0 1773.7,226.7 1774.0,228.1 1774.3,232.0 1774.6,231.3 1774.9,237.5 1775.2,238.4 1775.5,233.4 1775.9,236.8 1776.2,238.7 1776.5,241.5 1776.8,241.9 1777.1,238.2 1777.4,238.8 1777.7,232.8 1778.1,231.5 1778.4,231.5 1778.7,232.0 1779.0,230.4 1779.3,236.0 1779.6,235.3 1779.9,238.6 1780.3,237.6 1780.6,237.5 1780.9,246.3 1781.2,235.8 1781.5,232.1 1781.8,234.7 1782.1,231.0 1782.5,232.1 1782.8,235.8 1783.1,235.5 1783.4,238.8 1783.7,235.2 1784.0,233.0 1784.3,242.6 1784.7,242.4 1785.0,241.3 1785.3,240.5 1785.6,240.5 1785.9,243.6 1786.2,239.3 1786.5,245.7 1786.9,243.5 1787.2,249.0 1787.5,248.4 1787.8,250.6 1788.1,254.1 1788.4,246.0 1788.7,246.2 1789.0,251.6 1789.4,246.2 1789.7,243.8 1790.0,237.4 1790.3,246.2 1790.6,242.1 1790.9,240.4 1791.2,245.5 1791.6,237.4 1791.9,257.0 1792.2,248.0 1792.5,249.9 1792.8,243.9 1793.1,242.9 1793.4,246.2 1793.8,211.4 1794.1,237.6 1794.4,242.0 1794.7,243.5 1795.0,240.7 1795.3,248.3 1795.6,249.7 1796.0,250.5 1796.3,243.6 1796.6,252.7 1796.9,252.0 1797.2,261.5 1797.5,258.8 1797.8,255.7" fill="none" stroke="#000" stroke-opacity="0.45" stroke-width="0.5" stroke-linejoin="round"/>
<line x1="1464.5" y1="243" x2="1799.4" y2="243" stroke="#1c1c1c" stroke-width="1.25" stroke-dasharray="20.3 13"/>
<polyline points="1465.4,328.5 1466.1,329.8 1466.8,330.4 1467.5,331.5 1468.5,332.7 1469.0,333.6 1469.5,334.5 1469.6,335.8 1470.8,336.6 1471.1,336.7 1472.1,338.3 1473.1,339.6 1473.9,340.5 1473.9,342.0 1473.8,343.6 1474.2,344.4 1474.0,344.7 1474.2,346.0 1474.5,347.2 1474.4,347.7 1474.4,349.7 1475.0,348.3 1476.0,346.5 1476.5,346.7 1476.7,345.0 1477.7,343.7 1478.5,343.0 1478.6,344.4 1479.5,345.5 1480.2,346.3 1480.0,346.6 1480.3,347.9 1480.2,348.6 1480.2,349.9 1480.8,350.3 1480.3,352.2 1481.1,353.3 1480.5,353.0 1481.1,354.8 1480.9,356.5 1481.7,357.2 1481.8,358.4 1482.4,359.6 1482.5,360.6 1482.3,362.0 1483.0,362.7 1482.6,363.2 1483.3,363.7 1483.3,365.9 1483.2,367.2 1483.8,367.5 1483.9,368.9 1484.0,370.1 1484.0,370.4 1484.5,371.7 1484.2,373.2 1484.8,373.6 1484.3,374.9 1484.7,375.9 1485.1,376.6 1485.2,377.6 1484.9,379.5 1485.4,380.6 1485.3,381.4 1485.7,382.5 1486.0,383.3 1486.6,384.1 1487.0,385.2 1487.7,386.1 1488.1,386.7 1489.1,388.2 1489.9,388.4 1491.3,387.6 1490.8,387.7 1491.3,386.6 1491.3,385.6 1491.6,384.0 1492.2,383.3 1491.7,382.0 1491.9,380.9 1491.6,379.6 1492.5,378.3 1492.4,378.1 1492.7,377.3 1492.3,375.4 1492.7,374.8 1493.1,372.3 1493.2,371.8 1493.2,370.7 1493.2,370.8 1493.3,369.3 1493.6,368.2 1493.5,367.7 1493.9,365.9 1494.4,364.5 1494.2,363.8 1494.2,363.1 1494.3,362.0 1494.1,360.0 1494.7,359.2 1494.5,357.9 1495.2,357.8 1495.4,356.0 1495.2,354.8 1495.7,355.0 1495.6,353.9 1496.3,352.2 1496.0,351.8 1496.7,350.0 1497.1,349.4 1497.5,347.7 1497.5,347.8 1497.7,346.1 1497.3,345.5 1497.6,344.1 1498.0,343.0 1497.3,341.9 1497.5,341.4 1498.0,339.8 1498.1,339.3 1498.2,338.5 1498.3,337.4 1498.7,336.6 1498.3,335.3 1498.1,333.4 1498.2,333.3 1498.4,331.8 1498.7,330.8 1498.7,329.9 1499.3,328.8 1499.1,328.2 1499.0,326.2 1499.0,326.2 1498.9,324.4 1499.5,324.0 1499.4,323.0 1499.5,321.1 1499.6,320.4 1500.6,319.5 1500.7,318.4 1501.0,317.8 1502.9,317.2 1503.2,318.1 1504.0,318.1 1504.8,319.8 1504.7,320.5 1505.4,321.7 1505.8,323.2 1506.0,324.0 1506.3,325.1 1506.3,324.9 1506.7,327.3 1506.6,327.6 1507.2,328.1 1507.1,330.9 1507.0,331.3 1507.7,332.0 1507.6,333.5 1507.4,334.2 1507.8,335.6 1507.9,336.3 1507.9,337.3 1508.4,338.5 1508.1,339.2 1509.0,341.1 1508.6,340.5 1508.7,342.9 1509.0,343.9 1508.8,345.0 1508.5,346.3 1509.1,346.6 1509.4,348.7 1508.9,348.7 1509.3,350.1 1509.3,350.7 1509.9,352.6 1509.3,352.6 1510.0,354.7 1510.1,355.7 1509.6,356.5 1509.4,357.1 1509.9,358.6 1509.8,359.4 1510.1,360.6 1510.2,361.6 1510.1,362.9 1510.2,363.2 1510.2,364.6 1510.3,365.7 1510.4,366.8 1510.5,367.2 1510.6,369.2 1510.7,369.7 1510.8,370.4 1510.3,371.9 1510.6,373.2 1510.6,372.8 1510.7,375.6 1510.9,375.4 1510.9,375.2 1511.3,374.1 1511.6,373.3 1511.4,372.2 1511.8,371.4 1511.8,369.5 1511.7,369.3 1511.8,368.4 1512.1,367.4 1512.0,367.0 1512.4,364.9 1512.3,365.1 1512.3,363.3 1512.7,362.0 1512.3,361.0 1512.7,360.4 1512.9,358.9 1513.0,358.1 1513.0,356.9 1513.0,356.1 1512.9,354.5 1513.3,353.2 1513.3,351.9 1513.3,352.0 1513.7,350.7 1514.7,348.6 1515.3,350.4 1515.3,350.8 1515.1,351.4 1515.5,353.6 1515.0,354.1 1515.7,354.4 1515.3,355.7 1515.6,356.6 1515.9,358.3 1516.2,359.4 1516.5,358.6 1516.0,356.8 1516.2,355.6 1516.5,355.0 1516.8,353.3 1516.5,352.9 1516.9,351.7 1517.0,350.5 1517.3,349.9 1517.3,348.4 1517.4,346.5 1517.3,346.6 1517.4,345.7 1517.8,344.0 1517.9,343.4 1518.2,342.7 1518.2,341.0 1518.3,340.3 1518.7,339.4 1518.5,337.7 1518.7,336.9 1518.7,336.1 1519.3,335.3 1520.0,334.1 1520.9,333.2 1521.2,332.4 1521.6,330.4 1521.7,330.5 1522.4,330.5 1522.8,329.1 1523.1,327.9 1523.2,326.4 1523.4,324.9 1523.8,323.9 1523.8,324.2 1523.9,322.2 1524.3,321.2 1524.1,320.2 1524.6,319.4 1524.5,318.8 1525.1,317.0 1525.0,315.8 1525.4,314.6 1525.4,313.6 1525.3,313.1 1525.9,311.8 1525.6,311.1 1525.9,309.8 1526.4,309.1 1527.0,308.8 1528.1,307.4 1528.2,306.1 1528.2,305.9 1529.1,303.6 1528.7,302.5 1529.5,302.0 1529.4,301.1 1529.6,299.8 1530.0,298.5 1530.4,298.2 1530.9,296.9 1531.0,296.0 1531.5,295.5 1532.9,294.3 1533.8,293.5 1534.8,293.2 1535.4,292.5 1535.7,292.1 1535.8,290.1 1536.8,288.3 1536.4,288.0 1536.9,287.1 1537.1,286.1 1537.5,285.3 1537.4,283.6 1538.1,282.6 1538.2,282.3 1538.5,281.3 1539.1,280.1 1539.4,279.0 1539.3,278.0 1540.6,277.3 1541.4,277.3 1542.2,276.8 1542.8,275.2 1542.6,274.4 1543.0,273.6 1542.9,272.2 1542.8,271.5 1542.6,271.1 1543.2,268.7 1543.3,268.4 1543.3,267.6 1543.0,266.3 1543.7,265.2 1543.3,263.9 1543.3,263.6 1544.0,262.6 1543.8,262.4 1543.8,260.1 1544.2,259.6 1544.1,257.8 1544.6,257.4 1544.5,256.1 1544.9,255.3 1545.2,254.1 1545.4,253.5 1546.0,251.8 1546.8,252.8 1547.6,254.6 1548.1,255.2 1548.0,256.6 1547.9,257.6 1548.3,258.8 1548.4,258.9 1548.9,261.0 1549.0,262.3 1549.3,262.7 1549.7,263.4 1549.7,265.1 1550.3,266.1 1550.4,266.9 1550.6,269.0 1550.7,270.3 1550.9,270.4 1551.8,270.0 1552.1,267.9 1553.2,268.4 1553.4,268.1 1553.4,266.0 1553.7,264.9 1554.0,263.2 1553.8,261.2 1554.2,261.3 1554.3,261.3 1554.8,259.3 1555.4,258.0 1556.0,257.6 1556.8,256.6 1557.4,256.2 1558.2,255.0 1558.9,254.2 1558.9,254.0 1559.7,252.1 1560.3,251.7 1560.2,251.3 1561.1,250.1 1561.4,248.6 1561.5,248.1 1562.2,246.5 1562.6,245.6 1563.1,244.4 1563.3,242.7 1563.7,242.9 1564.5,241.6 1564.7,241.5 1565.1,240.2 1566.0,239.0 1566.3,239.6 1566.6,240.8 1567.0,242.2 1568.0,242.4 1567.8,243.8 1567.9,244.8 1568.4,245.5 1568.5,246.0 1568.8,247.0 1568.6,248.4 1568.8,250.1 1569.1,250.6 1569.4,252.4 1569.4,252.9 1570.1,254.1 1569.9,256.4 1571.0,255.8 1571.0,255.8 1571.7,255.0 1572.0,253.3 1572.5,253.2 1572.5,251.3 1572.9,249.8 1573.0,249.4 1573.4,248.2 1573.3,247.2 1573.7,246.1 1573.9,245.6 1574.3,244.9 1574.1,242.9 1574.0,242.8 1574.5,241.0 1574.9,239.3 1575.1,238.8 1574.7,237.9 1575.5,235.9 1575.6,235.7 1575.7,234.7 1576.0,233.4 1576.1,232.2 1576.2,231.0 1576.2,231.0 1576.5,229.1 1576.4,227.7 1576.8,227.3 1577.1,226.0 1577.1,225.3 1577.3,223.4 1577.8,224.7 1577.9,225.5 1578.2,227.1 1578.6,227.4 1579.0,229.1 1578.8,230.3 1579.2,230.9 1579.6,232.6 1579.4,233.3 1579.5,235.1 1579.8,235.6 1579.9,236.5 1580.7,236.1 1580.3,238.4 1581.0,238.9 1582.1,240.2 1581.9,241.6 1582.5,240.7 1583.3,239.3 1584.3,238.2 1583.9,236.4 1584.6,236.4 1584.3,235.5 1584.7,234.4 1584.2,232.9 1585.0,232.4 1585.2,230.0 1585.1,230.2 1585.8,228.6 1585.3,228.0 1585.7,226.8 1585.9,225.6 1585.8,224.7 1586.0,223.6 1585.8,223.3 1586.4,221.6 1586.5,221.2 1586.4,219.8 1586.9,219.0 1586.9,216.9 1587.4,216.9 1587.6,215.6 1588.0,214.5 1588.2,213.4 1588.4,214.5 1588.4,216.1 1588.6,217.2 1588.8,218.1 1589.4,219.1 1589.1,220.1 1589.5,220.5 1589.5,222.3 1589.6,223.4 1590.1,224.7 1590.4,225.7 1590.5,226.5 1590.8,227.5 1591.1,228.0 1591.4,229.7 1591.4,228.7 1591.8,227.6 1592.3,225.5 1591.9,224.8 1592.3,225.6 1591.7,223.5 1592.5,222.3 1592.7,220.5 1592.9,220.5 1592.8,219.1 1593.1,218.1 1593.1,217.0 1592.8,216.2 1593.4,215.5 1593.3,214.2 1593.8,213.2 1594.0,213.0 1593.7,210.3 1594.2,210.7 1594.4,209.4 1594.8,208.0 1595.9,207.2 1595.4,206.1 1596.5,206.2 1595.9,204.0 1596.2,203.0 1596.5,202.2 1596.1,201.7 1596.3,200.1 1596.6,198.9 1596.7,197.6 1596.4,195.9 1596.6,195.5 1597.0,194.8 1597.2,193.8 1597.0,192.5 1596.8,191.7 1597.4,190.9 1597.4,189.6 1597.7,188.7 1597.7,187.9 1597.7,187.2 1597.6,185.5 1597.7,184.3 1598.4,184.3 1598.4,182.8 1598.9,181.9 1599.1,180.0 1599.0,179.7 1599.7,178.5 1599.9,177.6 1600.6,176.6 1601.7,175.9 1601.6,176.0 1602.1,174.2 1602.0,173.2 1602.7,172.2 1602.9,171.0 1603.0,169.8 1603.2,169.4 1603.1,167.7 1603.7,166.4 1603.9,165.9 1604.7,164.8 1604.7,162.8 1605.3,162.4 1605.1,162.9 1605.3,163.9 1605.6,165.5 1605.8,166.5 1605.8,167.9 1606.1,167.5 1606.4,169.0 1606.6,170.1 1607.3,170.7 1607.5,172.8 1608.1,173.1 1609.5,173.8 1609.8,175.2 1610.1,174.9 1610.4,176.6 1610.9,177.7 1611.1,179.9 1611.1,179.5 1611.2,180.0 1611.2,182.2 1611.6,182.3 1611.5,184.3 1611.8,185.0 1612.2,186.7 1612.6,187.6 1612.4,188.2 1612.9,189.8 1612.5,190.4 1612.8,191.3 1612.8,191.7 1613.4,192.6 1614.3,194.5 1614.4,195.9 1616.4,195.3 1616.7,195.4 1616.8,193.5 1616.6,193.1 1616.6,192.0 1616.9,190.2 1616.5,189.2 1616.7,188.5 1617.0,187.8 1617.0,186.4 1617.0,186.0 1617.3,184.6 1617.2,184.2 1617.2,182.8 1617.7,181.4 1617.7,180.0 1617.8,179.6 1617.3,178.8 1617.6,178.0 1617.7,176.4 1618.0,175.3 1618.1,174.2 1618.3,173.4 1618.3,171.2 1618.7,171.2 1618.4,170.1 1619.1,169.4 1619.1,168.4 1619.4,169.8 1619.5,170.1 1619.6,170.4 1620.1,172.2 1620.3,173.2 1620.0,173.2 1620.1,174.6 1620.2,176.2 1620.6,176.8 1621.0,177.9 1621.4,179.3 1621.9,179.7 1622.0,179.6 1623.0,178.4 1623.2,176.8 1623.7,175.3 1623.7,175.2 1624.2,174.6 1623.9,172.3 1624.4,172.2 1624.4,170.3 1624.7,170.1 1624.8,168.6 1624.9,168.1 1625.1,166.1 1625.7,166.1 1626.1,165.4 1626.4,164.1 1626.9,163.4 1627.5,164.2 1627.8,166.0 1627.8,166.7 1628.2,167.5 1628.0,168.2 1628.4,170.3 1628.6,171.0 1628.6,172.0 1628.5,173.4 1628.8,173.6 1628.9,174.8 1629.4,176.6 1629.1,177.6 1629.7,178.1 1629.4,179.1 1629.7,180.6 1629.9,180.7 1630.2,181.9 1630.6,183.1 1630.4,184.3 1630.6,186.3 1631.1,187.0 1631.2,187.1 1631.2,188.6 1631.2,190.1 1631.5,190.6 1631.6,191.1 1632.1,193.6 1632.3,193.6 1631.9,195.1 1633.0,196.2 1633.2,197.7 1633.5,197.9 1633.7,199.5 1633.4,198.0 1633.7,197.1 1634.3,195.7 1634.0,195.7 1634.7,194.8 1634.6,193.7 1635.5,193.1 1635.2,191.4 1635.5,190.7 1635.9,189.3 1635.6,188.6 1636.0,187.6 1636.4,187.0 1636.8,185.2 1637.0,185.0 1637.1,183.4 1637.8,182.7 1637.9,180.5 1637.9,180.1 1638.5,182.1 1638.4,182.5 1639.0,182.4 1639.0,184.2 1639.3,185.0 1639.7,185.8 1640.5,186.9 1641.1,188.4 1641.8,189.3 1643.0,188.4 1643.4,188.0 1643.5,187.1 1643.5,185.9 1643.8,184.3 1644.4,183.2 1644.5,182.8 1644.6,181.1 1644.7,181.1 1644.5,179.4 1645.2,178.5 1644.8,177.2 1645.1,176.6 1645.3,176.1 1645.3,174.6 1645.9,172.9 1646.0,173.1 1647.0,171.9 1647.3,170.6 1647.9,169.5 1648.2,169.9 1648.0,168.1 1648.2,167.6 1648.7,166.1 1649.8,166.1 1650.7,165.5 1650.8,164.5 1650.8,163.5 1650.7,162.3 1651.7,161.5 1651.1,160.6 1651.3,158.8 1651.4,158.8 1651.8,157.5 1651.6,156.1 1652.2,155.6 1651.9,153.5 1652.0,154.3 1652.2,152.0 1652.7,150.9 1652.7,149.2 1652.7,149.3 1653.0,150.1 1653.0,150.8 1653.6,152.5 1653.5,153.5 1654.1,154.1 1654.3,155.1 1654.1,156.6 1653.9,157.6 1654.3,158.1 1654.6,160.1 1654.7,161.4 1654.7,161.4 1655.4,163.2 1655.4,163.7 1655.5,165.3 1655.5,166.2 1655.8,167.0 1655.5,167.8 1656.1,169.2 1655.8,170.2 1656.1,171.2 1656.3,172.5 1656.4,173.5 1656.6,172.7 1656.6,171.9 1656.7,169.9 1656.6,169.5 1656.9,168.1 1656.7,167.6 1656.8,167.2 1656.9,166.1 1656.7,163.9 1657.3,163.9 1657.2,162.7 1657.3,161.1 1657.5,160.4 1657.5,159.6 1657.0,158.0 1657.7,157.5 1657.4,156.6 1657.5,155.3 1657.7,154.5 1658.1,153.4 1658.3,153.1 1658.4,151.7 1658.2,150.2 1658.3,148.8 1658.4,147.7 1658.9,147.2 1658.6,145.1 1658.8,144.6 1658.8,143.3 1658.7,143.1 1659.4,142.9 1659.6,140.8 1660.2,139.9 1660.1,138.7 1660.2,138.5 1660.7,139.8 1660.6,140.2 1660.7,141.8 1660.8,142.7 1661.6,144.2 1661.3,145.3 1661.5,145.5 1661.4,147.3 1662.1,147.6 1661.7,148.7 1662.5,150.3 1662.0,150.2 1662.0,152.4 1662.6,152.8 1662.2,153.8 1662.0,155.4 1662.3,156.5 1662.2,156.5 1662.7,157.7 1662.9,159.1 1662.6,160.4 1663.1,160.3 1663.3,162.4 1663.2,162.4 1663.0,164.0 1663.4,164.6 1663.1,165.4 1663.3,167.4 1663.0,168.0 1663.6,170.0 1663.7,170.2 1663.4,170.9 1663.5,172.4 1663.7,174.1 1663.9,173.9 1664.2,175.8 1664.0,176.1 1663.7,177.0 1664.4,178.1 1664.0,179.6 1664.4,180.8 1664.6,182.1 1664.3,183.0 1664.4,183.9 1664.7,184.7 1664.9,185.6 1665.1,187.0 1664.9,187.4 1665.0,188.5 1665.4,189.7 1666.3,191.0 1666.1,191.4 1666.0,192.6 1666.5,193.3 1666.9,194.6 1667.0,194.8 1666.9,197.0 1667.2,198.1 1667.3,199.0 1667.1,199.6 1667.1,201.2 1667.9,201.9 1667.8,202.7 1668.5,204.7 1668.2,205.5 1668.0,205.2 1668.4,206.7 1668.5,208.1 1669.4,208.8 1668.9,210.2 1669.0,211.5 1669.5,211.6 1669.3,213.1 1669.4,213.5 1669.1,214.2 1669.7,216.3 1669.8,216.3 1669.8,218.0 1669.7,218.9 1670.3,220.5 1670.3,221.5 1670.3,222.4 1670.5,223.6 1670.6,224.3 1670.7,225.1 1671.4,226.7 1671.1,228.4 1671.4,227.8 1671.4,229.8 1671.7,231.1 1671.6,231.0 1671.4,232.7 1671.7,233.1 1671.7,234.4 1671.9,235.8 1671.9,236.1 1672.3,238.3 1672.1,239.1 1672.3,240.0 1672.5,240.4 1672.6,242.2 1672.4,243.6 1673.1,244.5 1673.2,245.1 1672.9,245.6 1672.9,246.9 1673.2,248.1 1672.9,249.9 1673.9,249.9 1673.7,251.1 1673.8,251.9 1673.8,252.6 1674.0,254.0 1674.2,254.6 1674.2,256.2 1674.5,256.9 1674.6,258.9 1674.8,259.4 1674.7,260.6 1675.2,262.5 1675.2,260.6 1675.5,260.0 1675.4,258.6 1675.8,258.2 1675.7,256.5 1676.3,255.5 1676.4,255.2 1676.5,253.6 1676.6,252.8 1676.8,251.6 1677.0,250.2 1676.9,249.9 1677.2,248.6 1677.2,247.6 1677.4,247.6 1677.2,246.0 1677.2,245.2 1677.8,243.8 1677.4,242.9 1678.0,242.2 1678.0,240.0 1677.8,240.3 1677.8,239.2 1678.5,238.0 1678.5,236.5 1678.1,235.6 1678.4,234.6 1678.7,233.5 1678.7,232.7 1678.7,232.3 1678.9,230.6 1678.9,229.2 1679.3,228.5 1678.9,227.2 1679.2,226.2 1679.6,224.9 1679.5,224.5 1679.3,223.4 1679.7,222.6 1679.7,221.5 1679.6,219.9 1680.2,219.7 1680.2,218.0 1680.6,216.4 1680.3,216.5 1680.7,214.8 1680.3,214.8 1680.9,212.8 1681.0,212.5 1680.8,211.3 1681.8,208.7 1682.2,207.6 1682.4,209.5 1682.7,210.1 1682.3,211.8 1682.2,212.0 1682.3,213.3 1682.2,214.5 1682.7,215.4 1683.0,216.2 1683.0,217.1 1682.9,217.5 1682.9,219.3 1682.8,220.1 1682.9,221.0 1682.6,222.1 1683.0,223.2 1682.9,224.4 1683.4,225.4 1683.1,227.1 1683.5,228.0 1683.6,228.5 1683.4,230.2 1683.4,230.7 1683.6,232.0 1683.5,233.3 1683.6,234.2 1683.9,235.2 1683.9,235.5 1683.5,236.8 1684.0,238.7 1683.7,239.3 1683.8,239.9 1684.0,241.5 1684.3,240.6 1684.3,239.4 1684.9,238.0 1685.0,236.6 1684.9,235.6 1685.2,235.9 1685.5,234.3 1685.8,232.6 1686.2,231.1 1686.4,230.5 1686.1,229.5 1686.8,228.3 1687.2,226.8 1687.2,226.2 1687.4,225.5 1687.8,223.5 1688.7,222.6 1689.1,221.4 1690.0,220.5 1691.0,219.2 1691.3,218.7 1691.4,217.7 1691.7,216.2 1691.4,215.7 1692.0,214.5 1692.5,212.8 1693.4,212.7 1694.5,212.3 1695.5,213.0 1696.1,214.8 1696.6,213.7 1697.4,211.7 1697.5,211.6 1698.3,210.9 1698.7,212.1 1698.7,212.6 1699.2,213.5 1699.5,214.0 1699.7,215.6 1699.4,217.2 1700.3,217.9 1700.5,218.8 1701.5,219.8 1700.9,221.0 1701.8,220.1 1702.3,218.7 1702.6,218.3 1702.9,217.6 1703.5,217.2 1704.3,218.9 1704.3,219.9 1704.6,220.2 1705.6,219.4 1705.5,218.6 1706.4,217.3 1706.2,216.1 1707.1,215.5 1708.5,215.5 1709.2,216.0 1709.9,214.6 1710.2,212.8 1710.4,212.6 1710.6,212.2 1710.6,210.8 1711.2,210.1 1711.9,209.1 1712.7,210.2 1713.5,209.9 1713.6,211.3 1714.2,212.4 1714.9,212.8 1715.3,213.2 1716.0,212.3 1716.7,211.4 1718.1,212.8 1718.5,212.6 1720.4,212.3 1721.9,212.3 1722.1,212.9 1722.5,214.3 1722.3,215.0 1722.7,215.6 1723.3,217.1 1723.6,217.7 1723.8,218.7 1724.3,220.2 1725.0,221.4 1724.9,221.6 1725.2,222.8 1726.2,223.9 1726.1,222.3 1727.0,222.3 1728.0,221.5 1728.6,220.0 1728.2,220.2 1728.7,218.1 1728.4,216.8 1728.5,216.4 1729.3,215.8 1729.5,214.2 1729.5,214.2 1729.4,212.5 1730.0,211.7 1730.0,210.7 1730.4,209.4 1730.3,208.4 1730.4,207.4 1730.7,206.6 1731.2,206.0 1730.9,204.7 1731.8,205.8 1732.4,206.6 1732.9,207.2 1734.2,207.7 1735.1,207.0 1735.5,205.5 1735.5,204.9 1736.3,203.3 1736.5,203.0 1736.8,202.2 1739.3,202.4 1739.4,200.4 1740.0,199.4 1740.5,197.9 1741.2,196.8 1741.3,196.3 1742.2,194.7 1743.3,193.6 1743.4,194.9 1744.1,196.8 1744.3,197.6 1744.8,198.2 1745.2,199.5 1745.7,201.1 1745.7,201.9 1746.3,202.6 1746.2,203.7 1746.6,204.4 1746.9,205.5 1747.4,206.7 1747.3,207.6 1747.9,207.8 1748.1,208.6 1748.1,210.4 1748.6,211.3 1748.4,211.8 1748.4,213.6 1748.7,214.0 1749.0,215.1 1749.0,216.3 1749.6,218.2 1749.4,218.0 1749.6,219.8 1750.8,219.7 1751.8,219.4 1752.2,220.1 1752.2,220.8 1752.6,221.5 1752.7,222.7 1752.6,224.2 1753.1,225.0 1753.6,225.3 1753.9,227.0 1754.7,227.4 1755.2,228.9 1755.9,230.2 1756.4,231.6 1756.8,231.5 1757.3,232.2 1758.0,232.8 1758.7,234.7 1759.7,235.3 1760.5,236.1 1760.6,234.6 1760.9,234.1 1761.7,233.6 1761.6,232.7 1762.3,231.4 1762.6,230.4 1763.2,230.6 1764.1,232.6 1765.1,232.7 1765.8,232.0 1767.3,231.4 1768.2,231.8 1769.4,232.3 1770.1,230.4 1771.0,230.3 1771.5,228.9 1772.7,228.1 1773.1,228.3 1774.2,227.1 1774.6,226.3 1775.2,224.4 1776.5,224.2 1776.6,222.4 1777.3,221.0 1777.8,221.1 1778.1,220.2 1778.8,219.2 1779.9,218.9 1780.8,217.6 1782.0,217.2 1783.1,216.2 1784.0,216.8 1785.1,217.5 1785.8,218.6 1786.5,217.2 1787.2,216.5 1787.7,215.3 1788.9,214.8 1790.4,214.2 1790.5,214.8 1791.5,216.2 1792.4,217.7 1793.5,216.9 1794.0,215.7 1794.8,215.8 1796.1,214.0 1797.2,215.1 1797.7,215.0 1798.0,217.0 1798.2,217.5 1798.0,219.3 1798.0,220.5 1798.4,221.1 1798.1,221.8 1798.6,222.5 1799.0,223.6 1798.4,225.2 1798.8,226.6 1798.7,227.3 1798.8,228.2 1798.4,229.8 1799.0,230.6 1798.9,231.7 1799.0,232.6 1799.3,233.0 1799.1,234.3 1799.0,236.4 1798.9,236.8 1799.0,238.3 1799.0,238.3 1799.3,239.9 1799.2,241.5 1799.1,242.0 1799.3,243.4" fill="none" stroke="#0000ff" stroke-width="4.6" stroke-linejoin="round" stroke-linecap="round"/>
<line x1="1797.4" y1="243.2" x2="1914.5" y2="243.2" stroke="#0000ff" stroke-width="4.3"/>
<clipPath id="cp3"><rect x="1801.4" y="108" width="113.1" height="310.5"/></clipPath>
<line x1="1464.5" y1="243" x2="1914.5" y2="243" stroke="#000010" stroke-width="1.4" stroke-dasharray="20.3 13" clip-path="url(#cp3)"/>
<line x1="1465" y1="392.4" x2="1914" y2="392.4" stroke="#00ff00" stroke-width="3"/>
<line x1="1799.4" y1="108" x2="1799.4" y2="418.5" stroke="#00ffff" stroke-width="2.9"/>
<line x1="1464.5" y1="108" x2="1464.5" y2="419" stroke="#0000ff" stroke-width="1"/>
<line x1="1914.5" y1="108" x2="1914.5" y2="419" stroke="#262626" stroke-width="1"/>
<line x1="1464" y1="418.5" x2="1915" y2="418.5" stroke="#262626" stroke-width="1"/>
<text x="1464.5" y="447.9" font-size="20.83" fill="#262626" text-anchor="middle">0</text>
<line x1="1521.5" y1="418" x2="1521.5" y2="414" stroke="#262626" stroke-width="1"/>
<text x="1520.75" y="447.9" font-size="20.83" fill="#262626" text-anchor="middle">3</text>
<line x1="1577.5" y1="418" x2="1577.5" y2="414" stroke="#262626" stroke-width="1"/>
<text x="1577" y="447.9" font-size="20.83" fill="#262626" text-anchor="middle">6</text>
<line x1="1633.5" y1="418" x2="1633.5" y2="414" stroke="#262626" stroke-width="1"/>
<text x="1633.25" y="447.9" font-size="20.83" fill="#262626" text-anchor="middle">9</text>
<line x1="1689.5" y1="418" x2="1689.5" y2="414" stroke="#262626" stroke-width="1"/>
<text x="1689.5" y="447.9" font-size="20.83" fill="#262626" text-anchor="middle">12</text>
<line x1="1746.5" y1="418" x2="1746.5" y2="414" stroke="#262626" stroke-width="1"/>
<text x="1745.75" y="447.9" font-size="20.83" fill="#262626" text-anchor="middle">15</text>
<line x1="1802.5" y1="418" x2="1802.5" y2="414" stroke="#262626" stroke-width="1"/>
<text x="1802" y="447.9" font-size="20.83" fill="#262626" text-anchor="middle">18</text>
<line x1="1858.5" y1="418" x2="1858.5" y2="414" stroke="#262626" stroke-width="1"/>
<text x="1858.25" y="447.9" font-size="20.83" fill="#262626" text-anchor="middle">21</text>
<text x="1914.5" y="447.9" font-size="20.83" fill="#262626" text-anchor="middle">24</text>
<text x="1688.7" y="479" font-size="22.9" fill="#262626" text-anchor="middle">UT Time /h</text>
<line x1="1465" y1="156.5" x2="1469.5" y2="156.5" stroke="#0000ff" stroke-width="1"/>
<text x="1454.3" y="164.8" font-size="20.83" fill="#0000ff" text-anchor="end">20</text>
<line x1="1465" y1="242.5" x2="1469.5" y2="242.5" stroke="#0000ff" stroke-width="1"/>
<text x="1454.3" y="250.7" font-size="20.83" fill="#0000ff" text-anchor="end">0</text>
<line x1="1465" y1="328.5" x2="1469.5" y2="328.5" stroke="#0000ff" stroke-width="1"/>
<text x="1454.3" y="336.2" font-size="20.83" fill="#0000ff" text-anchor="end">-20</text>
<line x1="1465" y1="414.5" x2="1469.5" y2="414.5" stroke="#0000ff" stroke-width="1"/>
<text x="1454.3" y="422.1" font-size="20.83" fill="#0000ff" text-anchor="end">-40</text>
<line x1="1914" y1="156.5" x2="1909.5" y2="156.5" stroke="#262626" stroke-width="1"/>
<text x="1923.5" y="164.8" font-size="20.83" fill="#262626">2</text>
<line x1="1914" y1="242.5" x2="1909.5" y2="242.5" stroke="#262626" stroke-width="1"/>
<text x="1923.5" y="250.7" font-size="20.83" fill="#262626">0</text>
<line x1="1914" y1="328.5" x2="1909.5" y2="328.5" stroke="#262626" stroke-width="1"/>
<text x="1923.5" y="336.2" font-size="20.83" fill="#262626">-2</text>
<line x1="1914" y1="414.5" x2="1909.5" y2="414.5" stroke="#262626" stroke-width="1"/>
<text x="1923.5" y="422.1" font-size="20.83" fill="#262626">-4</text>
<text x="1410.8" y="265" font-size="16.67" fill="#0000ff" text-anchor="middle" transform="rotate(-90 1410.8 265)">X Mean Magnetic Field / nT</text>
<text x="1967.2" y="265" font-size="16.67" fill="#000000" text-anchor="middle" transform="rotate(-90 1967.2 265)">Rate of Change / nT/min</text>
<rect x="1792.5" y="104.2" width="110.2" height="39.1" fill="#ffffff" stroke="#00ffff" stroke-width="1.05"/>
<text x="1798.9" y="130.8" font-size="20.83" fill="#000000">time now</text>
<rect x="276" y="537" width="111.9" height="310" fill="#e6e6e6"/>
<rect x="633.33" y="537" width="93.17" height="310" fill="#e6e6e6"/>
<line x1="275.5" y1="692.5" x2="727" y2="692.5" stroke="#000000" stroke-width="1"/>
<line x1="610.9" y1="537" x2="610.9" y2="847.5" stroke="#00ffff" stroke-width="2.9"/>
<line x1="275.5" y1="537" x2="275.5" y2="848" stroke="#262626" stroke-width="1"/>
<line x1="275" y1="847.5" x2="728" y2="847.5" stroke="#262626" stroke-width="1"/>
<text x="274.7" y="876.9" font-size="20.83" fill="#262626" text-anchor="middle">0</text>
<line x1="293.5" y1="847" x2="293.5" y2="843" stroke="#262626" stroke-width="1"/>
<line x1="312.5" y1="847" x2="312.5" y2="843" stroke="#262626" stroke-width="1"/>
<line x1="331.5" y1="847" x2="331.5" y2="843" stroke="#262626" stroke-width="1"/>
<text x="331.2" y="876.9" font-size="20.83" fill="#262626" text-anchor="middle">3</text>
<line x1="350.5" y1="847" x2="350.5" y2="843" stroke="#262626" stroke-width="1"/>
<line x1="369.5" y1="847" x2="369.5" y2="843" stroke="#262626" stroke-width="1"/>
<line x1="388.5" y1="847" x2="388.5" y2="843" stroke="#262626" stroke-width="1"/>
<text x="387.7" y="876.9" font-size="20.83" fill="#262626" text-anchor="middle">6</text>
<line x1="406.5" y1="847" x2="406.5" y2="843" stroke="#262626" stroke-width="1"/>
<line x1="425.5" y1="847" x2="425.5" y2="843" stroke="#262626" stroke-width="1"/>
<line x1="444.5" y1="847" x2="444.5" y2="843" stroke="#262626" stroke-width="1"/>
<text x="444.2" y="876.9" font-size="20.83" fill="#262626" text-anchor="middle">9</text>
<line x1="463.5" y1="847" x2="463.5" y2="843" stroke="#262626" stroke-width="1"/>
<line x1="482.5" y1="847" x2="482.5" y2="843" stroke="#262626" stroke-width="1"/>
<line x1="501.5" y1="847" x2="501.5" y2="843" stroke="#262626" stroke-width="1"/>
<text x="500.7" y="876.9" font-size="20.83" fill="#262626" text-anchor="middle">12</text>
<line x1="519.5" y1="847" x2="519.5" y2="843" stroke="#262626" stroke-width="1"/>
<line x1="538.5" y1="847" x2="538.5" y2="843" stroke="#262626" stroke-width="1"/>
<line x1="557.5" y1="847" x2="557.5" y2="843" stroke="#262626" stroke-width="1"/>
<text x="557.2" y="876.9" font-size="20.83" fill="#262626" text-anchor="middle">15</text>
<line x1="576.5" y1="847" x2="576.5" y2="843" stroke="#262626" stroke-width="1"/>
<line x1="595.5" y1="847" x2="595.5" y2="843" stroke="#262626" stroke-width="1"/>
<line x1="614.5" y1="847" x2="614.5" y2="843" stroke="#262626" stroke-width="1"/>
<text x="613.7" y="876.9" font-size="20.83" fill="#262626" text-anchor="middle">18</text>
<line x1="632.5" y1="847" x2="632.5" y2="843" stroke="#262626" stroke-width="1"/>
<line x1="651.5" y1="847" x2="651.5" y2="843" stroke="#262626" stroke-width="1"/>
<line x1="670.5" y1="847" x2="670.5" y2="843" stroke="#262626" stroke-width="1"/>
<text x="670.2" y="876.9" font-size="20.83" fill="#262626" text-anchor="middle">21</text>
<line x1="689.5" y1="847" x2="689.5" y2="843" stroke="#262626" stroke-width="1"/>
<line x1="708.5" y1="847" x2="708.5" y2="843" stroke="#262626" stroke-width="1"/>
<line x1="727.5" y1="847" x2="727.5" y2="843" stroke="#262626" stroke-width="1"/>
<text x="726.7" y="876.9" font-size="20.83" fill="#262626" text-anchor="middle">24</text>
<line x1="276" y1="537.5" x2="280" y2="537.5" stroke="#262626" stroke-width="1"/>
<line x1="276" y1="614.5" x2="280" y2="614.5" stroke="#262626" stroke-width="1"/>
<line x1="276" y1="770.5" x2="280" y2="770.5" stroke="#262626" stroke-width="1"/>
<text x="736.5" y="606" font-size="16.67" fill="#1a1a1a" font-weight="bold">dB/dT Alert</text>
<text x="736.5" y="761.2" font-size="16.67" fill="#0000ff" font-weight="bold">B Alert</text>
<rect x="604.9" y="533.05" width="110.2" height="39.1" fill="#ffffff" stroke="#00ffff" stroke-width="1.05"/>
<text x="611.3" y="559.65" font-size="20.83" fill="#000000">time now</text>
<rect x="869" y="537" width="112.15" height="310" fill="#e6e6e6"/>
<rect x="1227.53" y="537" width="92.97" height="310" fill="#e6e6e6"/>
<rect x="869" y="753.9" width="9.3" height="32.1" fill="#00ff00"/>
<rect x="886.1" y="753.9" width="13.2" height="32.1" fill="#00ff00"/>
<line x1="868.5" y1="692.5" x2="1321" y2="692.5" stroke="#000000" stroke-width="1"/>
<line x1="1204.9" y1="537" x2="1204.9" y2="847.5" stroke="#00ffff" stroke-width="2.9"/>
<line x1="868.5" y1="537" x2="868.5" y2="848" stroke="#262626" stroke-width="1"/>
<line x1="868" y1="847.5" x2="1322" y2="847.5" stroke="#262626" stroke-width="1"/>
<text x="868.4" y="876.9" font-size="20.83" fill="#262626" text-anchor="middle">0</text>
<line x1="887.5" y1="847" x2="887.5" y2="843" stroke="#262626" stroke-width="1"/>
<line x1="906.5" y1="847" x2="906.5" y2="843" stroke="#262626" stroke-width="1"/>
<line x1="925.5" y1="847" x2="925.5" y2="843" stroke="#262626" stroke-width="1"/>
<text x="925.03" y="876.9" font-size="20.83" fill="#262626" text-anchor="middle">3</text>
<line x1="944.5" y1="847" x2="944.5" y2="843" stroke="#262626" stroke-width="1"/>
<line x1="963.5" y1="847" x2="963.5" y2="843" stroke="#262626" stroke-width="1"/>
<line x1="981.5" y1="847" x2="981.5" y2="843" stroke="#262626" stroke-width="1"/>
<text x="981.65" y="876.9" font-size="20.83" fill="#262626" text-anchor="middle">6</text>
<line x1="1000.5" y1="847" x2="1000.5" y2="843" stroke="#262626" stroke-width="1"/>
<line x1="1019.5" y1="847" x2="1019.5" y2="843" stroke="#262626" stroke-width="1"/>
<line x1="1038.5" y1="847" x2="1038.5" y2="843" stroke="#262626" stroke-width="1"/>
<text x="1038.28" y="876.9" font-size="20.83" fill="#262626" text-anchor="middle">9</text>
<line x1="1057.5" y1="847" x2="1057.5" y2="843" stroke="#262626" stroke-width="1"/>
<line x1="1076.5" y1="847" x2="1076.5" y2="843" stroke="#262626" stroke-width="1"/>
<line x1="1095.5" y1="847" x2="1095.5" y2="843" stroke="#262626" stroke-width="1"/>
<text x="1094.9" y="876.9" font-size="20.83" fill="#262626" text-anchor="middle">12</text>
<line x1="1114.5" y1="847" x2="1114.5" y2="843" stroke="#262626" stroke-width="1"/>
<line x1="1132.5" y1="847" x2="1132.5" y2="843" stroke="#262626" stroke-width="1"/>
<line x1="1151.5" y1="847" x2="1151.5" y2="843" stroke="#262626" stroke-width="1"/>
<text x="1151.53" y="876.9" font-size="20.83" fill="#262626" text-anchor="middle">15</text>
<line x1="1170.5" y1="847" x2="1170.5" y2="843" stroke="#262626" stroke-width="1"/>
<line x1="1189.5" y1="847" x2="1189.5" y2="843" stroke="#262626" stroke-width="1"/>
<line x1="1208.5" y1="847" x2="1208.5" y2="843" stroke="#262626" stroke-width="1"/>
<text x="1208.15" y="876.9" font-size="20.83" fill="#262626" text-anchor="middle">18</text>
<line x1="1227.5" y1="847" x2="1227.5" y2="843" stroke="#262626" stroke-width="1"/>
<line x1="1246.5" y1="847" x2="1246.5" y2="843" stroke="#262626" stroke-width="1"/>
<line x1="1265.5" y1="847" x2="1265.5" y2="843" stroke="#262626" stroke-width="1"/>
<text x="1264.78" y="876.9" font-size="20.83" fill="#262626" text-anchor="middle">21</text>
<line x1="1283.5" y1="847" x2="1283.5" y2="843" stroke="#262626" stroke-width="1"/>
<line x1="1302.5" y1="847" x2="1302.5" y2="843" stroke="#262626" stroke-width="1"/>
<line x1="1321.5" y1="847" x2="1321.5" y2="843" stroke="#262626" stroke-width="1"/>
<text x="1321.4" y="876.9" font-size="20.83" fill="#262626" text-anchor="middle">24</text>
<line x1="869" y1="537.5" x2="873" y2="537.5" stroke="#262626" stroke-width="1"/>
<line x1="869" y1="614.5" x2="873" y2="614.5" stroke="#262626" stroke-width="1"/>
<line x1="869" y1="770.5" x2="873" y2="770.5" stroke="#262626" stroke-width="1"/>
<text x="1330.5" y="606" font-size="16.67" fill="#1a1a1a" font-weight="bold">dB/dT Alert</text>
<text x="1330.5" y="761.2" font-size="16.67" fill="#0000ff" font-weight="bold">B Alert</text>
<rect x="1198.9" y="533.05" width="110.2" height="39.1" fill="#ffffff" stroke="#00ffff" stroke-width="1.05"/>
<text x="1205.3" y="559.65" font-size="20.83" fill="#000000">time now</text>
<rect x="1465" y="537" width="111.9" height="310" fill="#e6e6e6"/>
<rect x="1821.55" y="537" width="92.85" height="310" fill="#e6e6e6"/>
<line x1="1464.5" y1="692.5" x2="1914" y2="692.5" stroke="#000000" stroke-width="1"/>
<line x1="1799.4" y1="537" x2="1799.4" y2="847.5" stroke="#00ffff" stroke-width="2.9"/>
<line x1="1464.5" y1="537" x2="1464.5" y2="848" stroke="#262626" stroke-width="1"/>
<line x1="1464" y1="847.5" x2="1915" y2="847.5" stroke="#262626" stroke-width="1"/>
<text x="1464.5" y="876.9" font-size="20.83" fill="#262626" text-anchor="middle">0</text>
<line x1="1483.5" y1="847" x2="1483.5" y2="843" stroke="#262626" stroke-width="1"/>
<line x1="1502.5" y1="847" x2="1502.5" y2="843" stroke="#262626" stroke-width="1"/>
<line x1="1521.5" y1="847" x2="1521.5" y2="843" stroke="#262626" stroke-width="1"/>
<text x="1520.75" y="876.9" font-size="20.83" fill="#262626" text-anchor="middle">3</text>
<line x1="1539.5" y1="847" x2="1539.5" y2="843" stroke="#262626" stroke-width="1"/>
<line x1="1558.5" y1="847" x2="1558.5" y2="843" stroke="#262626" stroke-width="1"/>
<line x1="1577.5" y1="847" x2="1577.5" y2="843" stroke="#262626" stroke-width="1"/>
<text x="1577" y="876.9" font-size="20.83" fill="#262626" text-anchor="middle">6</text>
<line x1="1596.5" y1="847" x2="1596.5" y2="843" stroke="#262626" stroke-width="1"/>
<line x1="1614.5" y1="847" x2="1614.5" y2="843" stroke="#262626" stroke-width="1"/>
<line x1="1633.5" y1="847" x2="1633.5" y2="843" stroke="#262626" stroke-width="1"/>
<text x="1633.25" y="876.9" font-size="20.83" fill="#262626" text-anchor="middle">9</text>
<line x1="1652.5" y1="847" x2="1652.5" y2="843" stroke="#262626" stroke-width="1"/>
<line x1="1671.5" y1="847" x2="1671.5" y2="843" stroke="#262626" stroke-width="1"/>
<line x1="1689.5" y1="847" x2="1689.5" y2="843" stroke="#262626" stroke-width="1"/>
<text x="1689.5" y="876.9" font-size="20.83" fill="#262626" text-anchor="middle">12</text>
<line x1="1708.5" y1="847" x2="1708.5" y2="843" stroke="#262626" stroke-width="1"/>
<line x1="1727.5" y1="847" x2="1727.5" y2="843" stroke="#262626" stroke-width="1"/>
<line x1="1746.5" y1="847" x2="1746.5" y2="843" stroke="#262626" stroke-width="1"/>
<text x="1745.75" y="876.9" font-size="20.83" fill="#262626" text-anchor="middle">15</text>
<line x1="1764.5" y1="847" x2="1764.5" y2="843" stroke="#262626" stroke-width="1"/>
<line x1="1783.5" y1="847" x2="1783.5" y2="843" stroke="#262626" stroke-width="1"/>
<line x1="1802.5" y1="847" x2="1802.5" y2="843" stroke="#262626" stroke-width="1"/>
<text x="1802" y="876.9" font-size="20.83" fill="#262626" text-anchor="middle">18</text>
<line x1="1821.5" y1="847" x2="1821.5" y2="843" stroke="#262626" stroke-width="1"/>
<line x1="1839.5" y1="847" x2="1839.5" y2="843" stroke="#262626" stroke-width="1"/>
<line x1="1858.5" y1="847" x2="1858.5" y2="843" stroke="#262626" stroke-width="1"/>
<text x="1858.25" y="876.9" font-size="20.83" fill="#262626" text-anchor="middle">21</text>
<line x1="1877.5" y1="847" x2="1877.5" y2="843" stroke="#262626" stroke-width="1"/>
<line x1="1896.5" y1="847" x2="1896.5" y2="843" stroke="#262626" stroke-width="1"/>
<line x1="1914.5" y1="847" x2="1914.5" y2="843" stroke="#262626" stroke-width="1"/>
<text x="1914.5" y="876.9" font-size="20.83" fill="#262626" text-anchor="middle">24</text>
<line x1="1465" y1="537.5" x2="1469" y2="537.5" stroke="#262626" stroke-width="1"/>
<line x1="1465" y1="614.5" x2="1469" y2="614.5" stroke="#262626" stroke-width="1"/>
<line x1="1465" y1="770.5" x2="1469" y2="770.5" stroke="#262626" stroke-width="1"/>
<rect x="1792.6" y="533.05" width="111" height="39.1" fill="#ffffff" stroke="#00ffff" stroke-width="1.05"/>
<text x="1799.8" y="559.65" font-size="20.83" fill="#000000">time now</text>
<rect x="268" y="881.8" width="159.9" height="40.2" fill="#00ff00"/>
<rect x="432" y="881.8" width="197" height="40.2" fill="#ffff00"/>
<rect x="629" y="881.8" width="165.8" height="40.2" fill="#ff0000"/>
<text x="275" y="908.8" font-size="20.83" fill="#000000">minor activity</text>
<text x="439" y="908.8" font-size="20.83" fill="#000000">moderate activity</text>
<text x="635.8" y="908.8" font-size="20.83" fill="#000000">strong activity</text>
<text x="1259.3" y="909.5" font-size="21" fill="#000000">Current Warning:</text>
<text x="1456.3" y="912.1" font-size="31.25" fill="#000000">0.0/9</text>
<rect x="276" y="935" width="409.25" height="331" fill="#e6e6e6"/>
<rect x="1574.14" y="935" width="339.66" height="331" fill="#e6e6e6"/>
<rect x="275.5" y="1241.5" width="11" height="25" fill="#00ff00" stroke="#000000" stroke-width="1"/>
<rect x="286.5" y="1241.5" width="11" height="25" fill="#00ff00" stroke="#000000" stroke-width="1"/>
<rect x="343.5" y="1241.5" width="11" height="25" fill="#00ff00" stroke="#000000" stroke-width="1"/>
<rect x="366.5" y="1241.5" width="11" height="25" fill="#00ff00" stroke="#000000" stroke-width="1"/>
<line x1="1493.8" y1="935" x2="1493.8" y2="1266.5" stroke="#00ffff" stroke-width="2.9"/>
<line x1="275.5" y1="935" x2="275.5" y2="1267" stroke="#262626" stroke-width="1"/>
<line x1="275" y1="1266.5" x2="1915" y2="1266.5" stroke="#262626" stroke-width="1"/>
<text x="275" y="1295" font-size="20.83" fill="#262626" text-anchor="middle">0</text>
<line x1="343.5" y1="1266" x2="343.5" y2="1249" stroke="#262626" stroke-width="1"/>
<text x="343.32" y="1295" font-size="20.83" fill="#262626" text-anchor="middle">1</text>
<line x1="411.5" y1="1266" x2="411.5" y2="1249" stroke="#262626" stroke-width="1"/>
<text x="411.64" y="1295" font-size="20.83" fill="#262626" text-anchor="middle">2</text>
<line x1="480.5" y1="1266" x2="480.5" y2="1249" stroke="#262626" stroke-width="1"/>
<text x="479.96" y="1295" font-size="20.83" fill="#262626" text-anchor="middle">3</text>
<line x1="548.5" y1="1266" x2="548.5" y2="1249" stroke="#262626" stroke-width="1"/>
<text x="548.28" y="1295" font-size="20.83" fill="#262626" text-anchor="middle">4</text>
<line x1="616.5" y1="1266" x2="616.5" y2="1249" stroke="#262626" stroke-width="1"/>
<text x="616.6" y="1295" font-size="20.83" fill="#262626" text-anchor="middle">5</text>
<line x1="685.5" y1="1266" x2="685.5" y2="1249" stroke="#262626" stroke-width="1"/>
<text x="684.92" y="1295" font-size="20.83" fill="#262626" text-anchor="middle">6</text>
<line x1="753.5" y1="1266" x2="753.5" y2="1249" stroke="#262626" stroke-width="1"/>
<text x="753.25" y="1295" font-size="20.83" fill="#262626" text-anchor="middle">7</text>
<line x1="821.5" y1="1266" x2="821.5" y2="1249" stroke="#262626" stroke-width="1"/>
<text x="821.57" y="1295" font-size="20.83" fill="#262626" text-anchor="middle">8</text>
<line x1="890.5" y1="1266" x2="890.5" y2="1249" stroke="#262626" stroke-width="1"/>
<text x="889.89" y="1295" font-size="20.83" fill="#262626" text-anchor="middle">9</text>
<line x1="958.5" y1="1266" x2="958.5" y2="1249" stroke="#262626" stroke-width="1"/>
<text x="958.21" y="1295" font-size="20.83" fill="#262626" text-anchor="middle">10</text>
<line x1="1026.5" y1="1266" x2="1026.5" y2="1249" stroke="#262626" stroke-width="1"/>
<text x="1026.53" y="1295" font-size="20.83" fill="#262626" text-anchor="middle">11</text>
<line x1="1095.5" y1="1266" x2="1095.5" y2="1249" stroke="#262626" stroke-width="1"/>
<text x="1094.85" y="1295" font-size="20.83" fill="#262626" text-anchor="middle">12</text>
<line x1="1163.5" y1="1266" x2="1163.5" y2="1249" stroke="#262626" stroke-width="1"/>
<text x="1163.17" y="1295" font-size="20.83" fill="#262626" text-anchor="middle">13</text>
<line x1="1231.5" y1="1266" x2="1231.5" y2="1249" stroke="#262626" stroke-width="1"/>
<text x="1231.49" y="1295" font-size="20.83" fill="#262626" text-anchor="middle">14</text>
<line x1="1300.5" y1="1266" x2="1300.5" y2="1249" stroke="#262626" stroke-width="1"/>
<text x="1299.81" y="1295" font-size="20.83" fill="#262626" text-anchor="middle">15</text>
<line x1="1368.5" y1="1266" x2="1368.5" y2="1249" stroke="#262626" stroke-width="1"/>
<text x="1368.13" y="1295" font-size="20.83" fill="#262626" text-anchor="middle">16</text>
<line x1="1436.5" y1="1266" x2="1436.5" y2="1249" stroke="#262626" stroke-width="1"/>
<text x="1436.45" y="1295" font-size="20.83" fill="#262626" text-anchor="middle">17</text>
<line x1="1504.5" y1="1266" x2="1504.5" y2="1249" stroke="#262626" stroke-width="1"/>
<text x="1504.78" y="1295" font-size="20.83" fill="#262626" text-anchor="middle">18</text>
<line x1="1573.5" y1="1266" x2="1573.5" y2="1249" stroke="#262626" stroke-width="1"/>
<text x="1573.1" y="1295" font-size="20.83" fill="#262626" text-anchor="middle">19</text>
<line x1="1641.5" y1="1266" x2="1641.5" y2="1249" stroke="#262626" stroke-width="1"/>
<text x="1641.42" y="1295" font-size="20.83" fill="#262626" text-anchor="middle">20</text>
<line x1="1709.5" y1="1266" x2="1709.5" y2="1249" stroke="#262626" stroke-width="1"/>
<text x="1709.74" y="1295" font-size="20.83" fill="#262626" text-anchor="middle">21</text>
<line x1="1778.5" y1="1266" x2="1778.5" y2="1249" stroke="#262626" stroke-width="1"/>
<text x="1778.06" y="1295" font-size="20.83" fill="#262626" text-anchor="middle">22</text>
<line x1="1846.5" y1="1266" x2="1846.5" y2="1249" stroke="#262626" stroke-width="1"/>
<text x="1846.38" y="1295" font-size="20.83" fill="#262626" text-anchor="middle">23</text>
<line x1="1914.5" y1="1266" x2="1914.5" y2="1249" stroke="#262626" stroke-width="1"/>
<line x1="276" y1="1192.5" x2="292" y2="1192.5" stroke="#262626" stroke-width="1"/>
<text x="265.3" y="1200.5" font-size="20.83" fill="#262626" text-anchor="end">2</text>
<line x1="276" y1="1118.5" x2="292" y2="1118.5" stroke="#262626" stroke-width="1"/>
<text x="265.3" y="1126.5" font-size="20.83" fill="#262626" text-anchor="end">4</text>
<line x1="276" y1="1045.5" x2="292" y2="1045.5" stroke="#262626" stroke-width="1"/>
<text x="265.3" y="1053.5" font-size="20.83" fill="#262626" text-anchor="end">6</text>
<line x1="276" y1="971.5" x2="292" y2="971.5" stroke="#262626" stroke-width="1"/>
<text x="265.3" y="979.5" font-size="20.83" fill="#262626" text-anchor="end">8</text>
<text x="265.3" y="1274.5" font-size="20.83" fill="#262626" text-anchor="end">0</text>
<text x="1094.5" y="1327.2" font-size="22.9" fill="#262626" text-anchor="middle">Time UTC / h</text>
<text x="239.9" y="1102" font-size="22.9" fill="#262626" text-anchor="middle" transform="rotate(-90 239.9 1102)">Warning Values</text>
<text x="1091.5" y="1359" font-size="20.83" fill="#000000" text-anchor="middle">Last updated: Sat 11 Oct 2025 06:50:35 NZDT</text>
<rect x="1487.8" y="933.7" width="109.7" height="39.5" fill="#ffffff" stroke="#00ffff" stroke-width="1.05"/>
<text x="1494.2" y="960.7" font-size="20.83" fill="#000000">time now</text>
</svg>
</body></html>
